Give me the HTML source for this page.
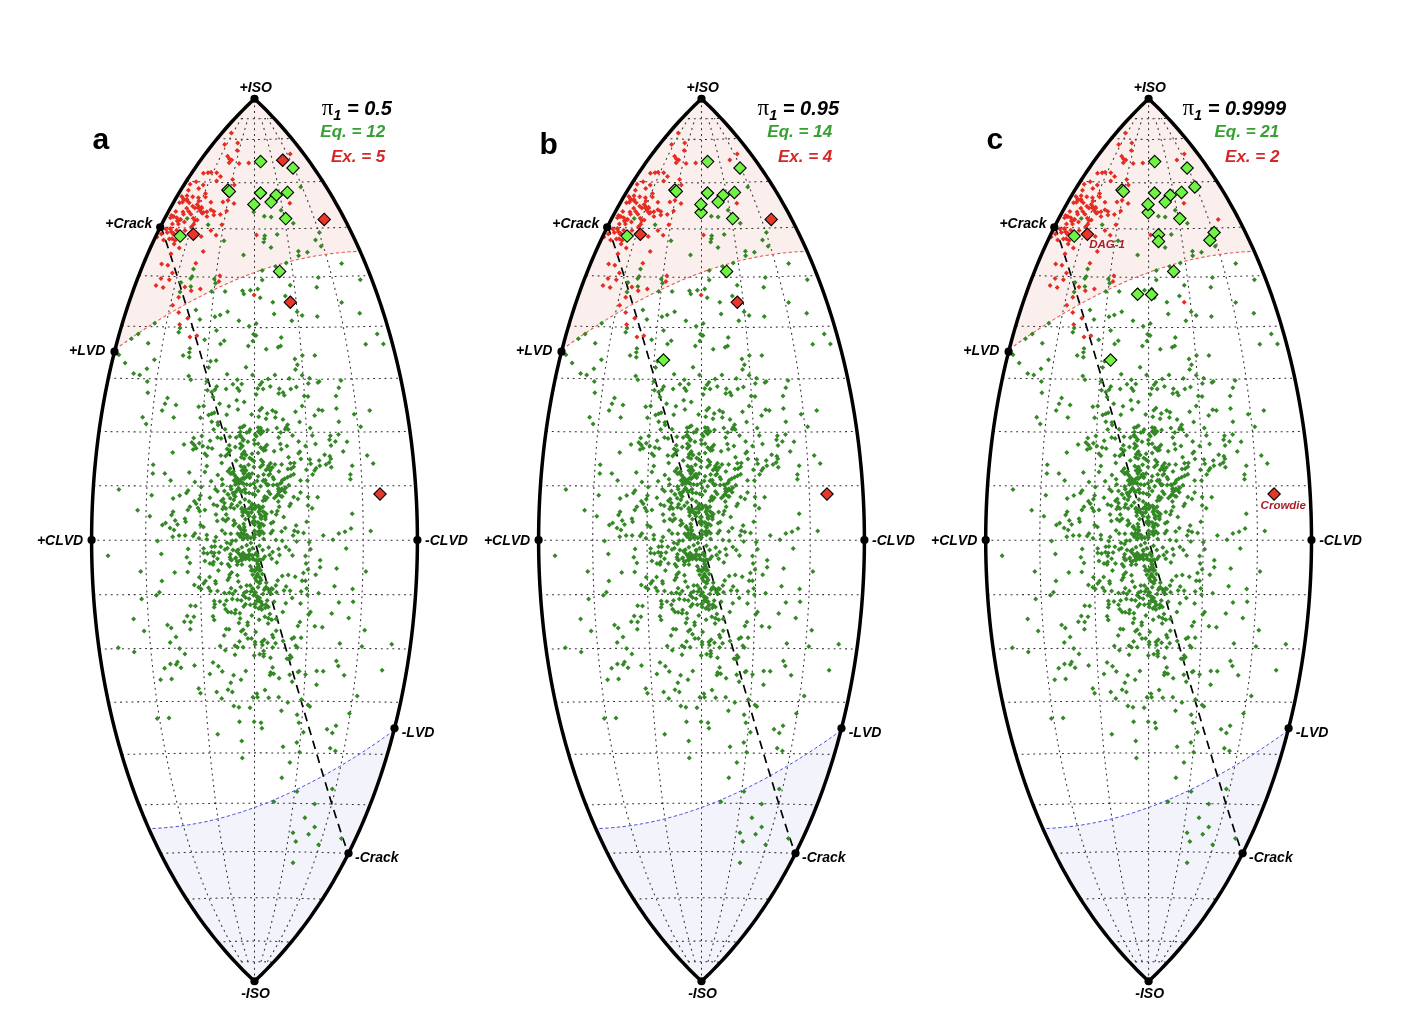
<!DOCTYPE html>
<html><head><meta charset="utf-8"><title>Lune plots</title>
<style>
html,body{margin:0;padding:0;background:#fff}
body{width:1412px;height:1034px;overflow:hidden}
svg{display:block}
text{font-family:"Liberation Sans",sans-serif;font-weight:bold;font-style:italic;fill:#000;font-kerning:none}
.lb{font-size:14px}
.pl{font-size:30px;font-style:normal}
.tt{font-size:20px}
.pi{font-family:"Liberation Serif","DejaVu Serif",serif;font-style:normal;font-weight:normal;font-size:23px}
.eq{font-size:17px;fill:#36a032}
.ex{font-size:17px;fill:#d62728}
.nm{font-size:11.5px;fill:#a52028}
</style></head><body>
<svg width="1412" height="1034" viewBox="0 0 1412 1034">
<rect width="1412" height="1034" fill="#fff"/>
<defs>
<g id="base">
<path d="M-0.00 441.23 L-3.95 437.50 L-7.84 433.72 L-11.66 429.90 L-15.42 426.04 L-19.12 422.15 L-22.75 418.21 L-26.33 414.24 L-29.84 410.24 L-33.30 406.19 L-36.70 402.11 L-40.05 398.00 L-43.33 393.85 L-46.57 389.67 L-49.75 385.45 L-52.87 381.20 L-55.95 376.92 L-58.97 372.61 L-61.94 368.26 L-64.86 363.88 L-67.73 359.48 L-70.55 355.04 L-73.32 350.57 L-76.04 346.07 L-78.71 341.54 L-81.34 336.98 L-83.92 332.40 L-86.45 327.79 L-88.94 323.15 L-91.38 318.48 L-93.78 313.79 L-96.13 309.07 L-98.43 304.32 L-100.70 299.55 L-102.91 294.76 L-105.09 289.94 L-107.22 285.09 L-109.31 280.23 L-111.35 275.34 L-113.36 270.42 L-115.32 265.49 L-117.23 260.53 L-119.11 255.56 L-120.94 250.56 L-122.74 245.54 L-124.49 240.50 L-126.20 235.44 L-127.87 230.36 L-129.50 225.26 L-131.09 220.15 L-132.64 215.02 L-134.15 209.86 L-135.62 204.70 L-137.05 199.51 L-138.44 194.31 L-139.79 189.10 L-141.10 183.87 L-142.38 178.62 L-143.61 173.36 L-144.80 168.08 L-145.96 162.80 L-147.07 157.49 L-148.15 152.18 L-149.19 146.85 L-150.19 141.52 L-151.15 136.17 L-152.08 130.81 L-152.96 125.43 L-153.81 120.05 L-154.62 114.66 L-155.39 109.26 L-156.13 103.85 L-156.82 98.44 L-157.48 93.01 L-158.10 87.58 L-158.68 82.14 L-159.22 76.69 L-159.73 71.24 L-160.20 65.78 L-160.63 60.32 L-161.02 54.85 L-161.38 49.38 L-161.70 43.90 L-161.98 38.42 L-162.22 32.94 L-162.43 27.45 L-162.60 21.96 L-162.73 16.48 L-162.82 10.98 L-162.88 5.49 L-162.90 -0.00 L-162.88 -5.49 L-162.82 -10.98 L-162.73 -16.48 L-162.60 -21.96 L-162.43 -27.45 L-162.22 -32.94 L-161.98 -38.42 L-161.70 -43.90 L-161.38 -49.38 L-161.02 -54.85 L-160.63 -60.32 L-160.20 -65.78 L-159.73 -71.24 L-159.22 -76.69 L-158.68 -82.14 L-158.10 -87.58 L-157.48 -93.01 L-156.82 -98.44 L-156.13 -103.85 L-155.39 -109.26 L-154.62 -114.66 L-153.81 -120.05 L-152.96 -125.43 L-152.08 -130.81 L-151.15 -136.17 L-150.19 -141.52 L-149.19 -146.85 L-148.15 -152.18 L-147.07 -157.49 L-145.96 -162.80 L-144.80 -168.08 L-143.61 -173.36 L-142.38 -178.62 L-141.10 -183.87 L-139.79 -189.10 L-138.44 -194.31 L-137.05 -199.51 L-135.62 -204.70 L-134.15 -209.86 L-132.64 -215.02 L-131.09 -220.15 L-129.50 -225.26 L-127.87 -230.36 L-126.20 -235.44 L-124.49 -240.50 L-122.74 -245.54 L-120.94 -250.56 L-119.11 -255.56 L-117.23 -260.53 L-115.32 -265.49 L-113.36 -270.42 L-111.35 -275.34 L-109.31 -280.23 L-107.22 -285.09 L-105.09 -289.94 L-102.91 -294.76 L-100.70 -299.55 L-98.43 -304.32 L-96.13 -309.07 L-93.78 -313.79 L-91.38 -318.48 L-88.94 -323.15 L-86.45 -327.79 L-83.92 -332.40 L-81.34 -336.98 L-78.71 -341.54 L-76.04 -346.07 L-73.32 -350.57 L-70.55 -355.04 L-67.73 -359.48 L-64.86 -363.88 L-61.94 -368.26 L-58.97 -372.61 L-55.95 -376.92 L-52.87 -381.20 L-49.75 -385.45 L-46.57 -389.67 L-43.33 -393.85 L-40.05 -398.00 L-36.70 -402.11 L-33.30 -406.19 L-29.84 -410.24 L-26.33 -414.24 L-22.75 -418.21 L-19.12 -422.15 L-15.42 -426.04 L-11.66 -429.90 L-7.84 -433.72 L-3.95 -437.50 L-0.00 -441.23 L0.00 -441.23 L3.95 -437.50 L7.84 -433.72 L11.66 -429.90 L15.42 -426.04 L19.12 -422.15 L22.75 -418.21 L26.33 -414.24 L29.84 -410.24 L33.30 -406.19 L36.70 -402.11 L40.05 -398.00 L43.33 -393.85 L46.57 -389.67 L49.75 -385.45 L52.87 -381.20 L55.95 -376.92 L58.97 -372.61 L61.94 -368.26 L64.86 -363.88 L67.73 -359.48 L70.55 -355.04 L73.32 -350.57 L76.04 -346.07 L78.71 -341.54 L81.34 -336.98 L83.92 -332.40 L86.45 -327.79 L88.94 -323.15 L91.38 -318.48 L93.78 -313.79 L96.13 -309.07 L98.43 -304.32 L100.70 -299.55 L102.91 -294.76 L105.09 -289.94 L107.22 -285.09 L109.31 -280.23 L111.35 -275.34 L113.36 -270.42 L115.32 -265.49 L117.23 -260.53 L119.11 -255.56 L120.94 -250.56 L122.74 -245.54 L124.49 -240.50 L126.20 -235.44 L127.87 -230.36 L129.50 -225.26 L131.09 -220.15 L132.64 -215.02 L134.15 -209.86 L135.62 -204.70 L137.05 -199.51 L138.44 -194.31 L139.79 -189.10 L141.10 -183.87 L142.38 -178.62 L143.61 -173.36 L144.80 -168.08 L145.96 -162.80 L147.07 -157.49 L148.15 -152.18 L149.19 -146.85 L150.19 -141.52 L151.15 -136.17 L152.08 -130.81 L152.96 -125.43 L153.81 -120.05 L154.62 -114.66 L155.39 -109.26 L156.13 -103.85 L156.82 -98.44 L157.48 -93.01 L158.10 -87.58 L158.68 -82.14 L159.22 -76.69 L159.73 -71.24 L160.20 -65.78 L160.63 -60.32 L161.02 -54.85 L161.38 -49.38 L161.70 -43.90 L161.98 -38.42 L162.22 -32.94 L162.43 -27.45 L162.60 -21.96 L162.73 -16.48 L162.82 -10.98 L162.88 -5.49 L162.90 -0.00 L162.88 5.49 L162.82 10.98 L162.73 16.48 L162.60 21.96 L162.43 27.45 L162.22 32.94 L161.98 38.42 L161.70 43.90 L161.38 49.38 L161.02 54.85 L160.63 60.32 L160.20 65.78 L159.73 71.24 L159.22 76.69 L158.68 82.14 L158.10 87.58 L157.48 93.01 L156.82 98.44 L156.13 103.85 L155.39 109.26 L154.62 114.66 L153.81 120.05 L152.96 125.43 L152.08 130.81 L151.15 136.17 L150.19 141.52 L149.19 146.85 L148.15 152.18 L147.07 157.49 L145.96 162.80 L144.80 168.08 L143.61 173.36 L142.38 178.62 L141.10 183.87 L139.79 189.10 L138.44 194.31 L137.05 199.51 L135.62 204.70 L134.15 209.86 L132.64 215.02 L131.09 220.15 L129.50 225.26 L127.87 230.36 L126.20 235.44 L124.49 240.50 L122.74 245.54 L120.94 250.56 L119.11 255.56 L117.23 260.53 L115.32 265.49 L113.36 270.42 L111.35 275.34 L109.31 280.23 L107.22 285.09 L105.09 289.94 L102.91 294.76 L100.70 299.55 L98.43 304.32 L96.13 309.07 L93.78 313.79 L91.38 318.48 L88.94 323.15 L86.45 327.79 L83.92 332.40 L81.34 336.98 L78.71 341.54 L76.04 346.07 L73.32 350.57 L70.55 355.04 L67.73 359.48 L64.86 363.88 L61.94 368.26 L58.97 372.61 L55.95 376.92 L52.87 381.20 L49.75 385.45 L46.57 389.67 L43.33 393.85 L40.05 398.00 L36.70 402.11 L33.30 406.19 L29.84 410.24 L26.33 414.24 L22.75 418.21 L19.12 422.15 L15.42 426.04 L11.66 429.90 L7.84 433.72 L3.95 437.50 L0.00 441.23 Z" fill="#fff"/>
<path d="M-139.44 -190.48 L-136.65 -192.50 L-133.86 -194.51 L-131.06 -196.50 L-128.24 -198.48 L-125.42 -200.45 L-122.59 -202.40 L-119.76 -204.34 L-116.91 -206.27 L-114.06 -208.18 L-111.20 -210.07 L-108.33 -211.95 L-105.45 -213.82 L-102.57 -215.66 L-99.67 -217.50 L-96.78 -219.31 L-93.87 -221.11 L-90.96 -222.89 L-88.03 -224.66 L-85.11 -226.41 L-82.17 -228.14 L-79.23 -229.85 L-76.29 -231.55 L-73.33 -233.23 L-70.37 -234.89 L-67.41 -236.53 L-64.43 -238.15 L-61.46 -239.75 L-58.47 -241.33 L-55.48 -242.89 L-52.48 -244.44 L-49.48 -245.96 L-46.48 -247.46 L-43.46 -248.94 L-40.44 -250.40 L-37.42 -251.83 L-34.39 -253.25 L-31.36 -254.64 L-28.32 -256.01 L-25.27 -257.35 L-22.22 -258.67 L-19.16 -259.97 L-16.10 -261.25 L-13.03 -262.50 L-9.96 -263.72 L-6.88 -264.92 L-3.79 -266.09 L-0.70 -267.24 L2.39 -268.37 L5.50 -269.46 L8.61 -270.53 L11.72 -271.57 L14.84 -272.59 L17.97 -273.58 L21.10 -274.53 L24.25 -275.46 L27.39 -276.37 L30.55 -277.24 L33.71 -278.08 L36.88 -278.89 L40.06 -279.68 L43.25 -280.43 L46.44 -281.15 L49.64 -281.85 L52.85 -282.51 L56.07 -283.13 L59.30 -283.73 L62.54 -284.30 L65.79 -284.83 L69.05 -285.33 L72.32 -285.80 L75.60 -286.24 L78.90 -286.64 L82.20 -287.01 L85.51 -287.34 L88.84 -287.65 L92.18 -287.92 L95.53 -288.15 L98.89 -288.36 L102.27 -288.52 L105.66 -288.66 L105.66 -288.66 L104.37 -291.55 L103.07 -294.43 L101.75 -297.30 L100.41 -300.16 L99.06 -303.01 L97.70 -305.85 L96.32 -308.69 L94.92 -311.51 L93.50 -314.33 L92.08 -317.13 L90.63 -319.93 L89.17 -322.72 L87.69 -325.50 L86.19 -328.27 L84.68 -331.02 L83.15 -333.77 L81.61 -336.51 L80.05 -339.24 L78.47 -341.96 L76.87 -344.67 L75.26 -347.36 L73.63 -350.05 L71.99 -352.73 L70.32 -355.40 L68.64 -358.05 L66.94 -360.70 L65.22 -363.33 L63.49 -365.95 L61.74 -368.56 L59.96 -371.16 L58.17 -373.75 L56.37 -376.33 L54.54 -378.90 L52.70 -381.45 L50.83 -383.99 L48.95 -386.52 L47.05 -389.04 L45.13 -391.55 L43.18 -394.04 L41.22 -396.53 L39.24 -399.00 L37.24 -401.45 L35.22 -403.90 L33.18 -406.33 L31.12 -408.75 L29.04 -411.16 L26.94 -413.55 L24.82 -415.94 L22.67 -418.30 L20.50 -420.66 L18.32 -423.00 L16.11 -425.33 L13.87 -427.64 L11.62 -429.94 L9.34 -432.23 L7.04 -434.50 L4.72 -436.76 L2.37 -439.00 L0.00 -441.23 L-0.00 -441.23 L-2.75 -438.65 L-5.46 -436.04 L-8.14 -433.42 L-10.79 -430.77 L-13.42 -428.11 L-16.01 -425.43 L-18.57 -422.73 L-21.10 -420.01 L-23.60 -417.28 L-26.07 -414.53 L-28.52 -411.76 L-30.94 -408.97 L-33.33 -406.16 L-35.69 -403.34 L-38.02 -400.50 L-40.33 -397.65 L-42.61 -394.77 L-44.87 -391.89 L-47.09 -388.98 L-49.30 -386.06 L-51.47 -383.12 L-53.62 -380.17 L-55.75 -377.20 L-57.85 -374.21 L-59.93 -371.21 L-61.98 -368.20 L-64.01 -365.17 L-66.01 -362.12 L-67.99 -359.07 L-69.95 -355.99 L-71.88 -352.90 L-73.79 -349.80 L-75.67 -346.68 L-77.54 -343.55 L-79.38 -340.41 L-81.19 -337.25 L-82.99 -334.07 L-84.76 -330.89 L-86.51 -327.69 L-88.23 -324.48 L-89.94 -321.25 L-91.62 -318.01 L-93.29 -314.76 L-94.93 -311.50 L-96.54 -308.22 L-98.14 -304.93 L-99.72 -301.63 L-101.27 -298.32 L-102.80 -295.00 L-104.32 -291.66 L-105.81 -288.31 L-107.28 -284.96 L-108.73 -281.59 L-110.16 -278.20 L-111.57 -274.81 L-112.96 -271.41 L-114.33 -268.00 L-115.67 -264.57 L-117.00 -261.14 L-118.31 -257.69 L-119.60 -254.24 L-120.87 -250.77 L-122.12 -247.30 L-123.34 -243.81 L-124.55 -240.32 L-125.74 -236.81 L-126.91 -233.30 L-128.06 -229.78 L-129.19 -226.25 L-130.30 -222.71 L-131.39 -219.16 L-132.47 -215.60 L-133.52 -212.04 L-134.55 -208.46 L-135.57 -204.88 L-136.57 -201.29 L-137.54 -197.70 L-138.50 -194.09 L-139.44 -190.48 Z" fill="#faefed"/>
<path d="M139.44 190.48 L136.65 192.50 L133.86 194.51 L131.06 196.50 L128.24 198.48 L125.42 200.45 L122.59 202.40 L119.76 204.34 L116.91 206.27 L114.06 208.18 L111.20 210.07 L108.33 211.95 L105.45 213.82 L102.57 215.66 L99.67 217.50 L96.78 219.31 L93.87 221.11 L90.96 222.89 L88.03 224.66 L85.11 226.41 L82.17 228.14 L79.23 229.85 L76.29 231.55 L73.33 233.23 L70.37 234.89 L67.41 236.53 L64.43 238.15 L61.46 239.75 L58.47 241.33 L55.48 242.89 L52.48 244.44 L49.48 245.96 L46.48 247.46 L43.46 248.94 L40.44 250.40 L37.42 251.83 L34.39 253.25 L31.36 254.64 L28.32 256.01 L25.27 257.35 L22.22 258.67 L19.16 259.97 L16.10 261.25 L13.03 262.50 L9.96 263.72 L6.88 264.92 L3.79 266.09 L0.70 267.24 L-2.39 268.37 L-5.50 269.46 L-8.61 270.53 L-11.72 271.57 L-14.84 272.59 L-17.97 273.58 L-21.10 274.53 L-24.25 275.46 L-27.39 276.37 L-30.55 277.24 L-33.71 278.08 L-36.88 278.89 L-40.06 279.68 L-43.25 280.43 L-46.44 281.15 L-49.64 281.85 L-52.85 282.51 L-56.07 283.13 L-59.30 283.73 L-62.54 284.30 L-65.79 284.83 L-69.05 285.33 L-72.32 285.80 L-75.60 286.24 L-78.90 286.64 L-82.20 287.01 L-85.51 287.34 L-88.84 287.65 L-92.18 287.92 L-95.53 288.15 L-98.89 288.36 L-102.27 288.52 L-105.66 288.66 L-105.66 288.66 L-104.37 291.55 L-103.07 294.43 L-101.75 297.30 L-100.41 300.16 L-99.06 303.01 L-97.70 305.85 L-96.32 308.69 L-94.92 311.51 L-93.50 314.33 L-92.08 317.13 L-90.63 319.93 L-89.17 322.72 L-87.69 325.50 L-86.19 328.27 L-84.68 331.02 L-83.15 333.77 L-81.61 336.51 L-80.05 339.24 L-78.47 341.96 L-76.87 344.67 L-75.26 347.36 L-73.63 350.05 L-71.99 352.73 L-70.32 355.40 L-68.64 358.05 L-66.94 360.70 L-65.22 363.33 L-63.49 365.95 L-61.74 368.56 L-59.96 371.16 L-58.17 373.75 L-56.37 376.33 L-54.54 378.90 L-52.70 381.45 L-50.83 383.99 L-48.95 386.52 L-47.05 389.04 L-45.13 391.55 L-43.18 394.04 L-41.22 396.53 L-39.24 399.00 L-37.24 401.45 L-35.22 403.90 L-33.18 406.33 L-31.12 408.75 L-29.04 411.16 L-26.94 413.55 L-24.82 415.94 L-22.67 418.30 L-20.50 420.66 L-18.32 423.00 L-16.11 425.33 L-13.87 427.64 L-11.62 429.94 L-9.34 432.23 L-7.04 434.50 L-4.72 436.76 L-2.37 439.00 L-0.00 441.23 L0.00 441.23 L2.75 438.65 L5.46 436.04 L8.14 433.42 L10.79 430.77 L13.42 428.11 L16.01 425.43 L18.57 422.73 L21.10 420.01 L23.60 417.28 L26.07 414.53 L28.52 411.76 L30.94 408.97 L33.33 406.16 L35.69 403.34 L38.02 400.50 L40.33 397.65 L42.61 394.77 L44.87 391.89 L47.09 388.98 L49.30 386.06 L51.47 383.12 L53.62 380.17 L55.75 377.20 L57.85 374.21 L59.93 371.21 L61.98 368.20 L64.01 365.17 L66.01 362.12 L67.99 359.07 L69.95 355.99 L71.88 352.90 L73.79 349.80 L75.67 346.68 L77.54 343.55 L79.38 340.41 L81.19 337.25 L82.99 334.07 L84.76 330.89 L86.51 327.69 L88.23 324.48 L89.94 321.25 L91.62 318.01 L93.29 314.76 L94.93 311.50 L96.54 308.22 L98.14 304.93 L99.72 301.63 L101.27 298.32 L102.80 295.00 L104.32 291.66 L105.81 288.31 L107.28 284.96 L108.73 281.59 L110.16 278.20 L111.57 274.81 L112.96 271.41 L114.33 268.00 L115.67 264.57 L117.00 261.14 L118.31 257.69 L119.60 254.24 L120.87 250.77 L122.12 247.30 L123.34 243.81 L124.55 240.32 L125.74 236.81 L126.91 233.30 L128.06 229.78 L129.19 226.25 L130.30 222.71 L131.39 219.16 L132.47 215.60 L133.52 212.04 L134.55 208.46 L135.57 204.88 L136.57 201.29 L137.54 197.70 L138.50 194.09 L139.44 190.48 Z" fill="#f3f3fc"/>
<path d="M-36.70 402.09 L-34.30 401.96 L-31.88 401.84 L-29.46 401.73 L-27.03 401.62 L-24.59 401.53 L-22.15 401.44 L-19.70 401.36 L-17.25 401.30 L-14.79 401.24 L-12.33 401.19 L-9.87 401.15 L-7.40 401.12 L-4.94 401.09 L-2.47 401.08 L0.00 401.08 L2.47 401.08 L4.94 401.09 L7.40 401.12 L9.87 401.15 L12.33 401.19 L14.79 401.24 L17.25 401.30 L19.70 401.36 L22.15 401.44 L24.59 401.53 L27.03 401.62 L29.46 401.73 L31.88 401.84 L34.30 401.96 L36.70 402.09 M-67.73 359.21 L-63.27 359.01 L-58.80 358.82 L-54.32 358.65 L-49.83 358.49 L-45.33 358.34 L-40.82 358.21 L-36.30 358.09 L-31.78 357.99 L-27.25 357.90 L-22.72 357.82 L-18.18 357.76 L-13.64 357.71 L-9.09 357.68 L-4.55 357.65 L0.00 357.65 L4.55 357.65 L9.09 357.68 L13.64 357.71 L18.18 357.76 L22.72 357.82 L27.25 357.90 L31.78 357.99 L36.30 358.09 L40.82 358.21 L45.33 358.34 L49.83 358.49 L54.32 358.65 L58.80 358.82 L63.27 359.01 L67.73 359.21 M-93.78 313.34 L-87.59 313.11 L-81.39 312.90 L-75.18 312.70 L-68.95 312.52 L-62.72 312.35 L-56.47 312.20 L-50.22 312.06 L-43.96 311.95 L-37.69 311.84 L-31.42 311.76 L-25.14 311.68 L-18.86 311.63 L-12.57 311.59 L-6.29 311.57 L0.00 311.56 L6.29 311.57 L12.57 311.59 L18.86 311.63 L25.14 311.68 L31.42 311.76 L37.69 311.84 L43.96 311.95 L50.22 312.06 L56.47 312.20 L62.72 312.35 L68.95 312.52 L75.18 312.70 L81.39 312.90 L87.59 313.11 L93.78 313.34 M-115.32 264.95 L-107.69 264.72 L-100.06 264.51 L-92.41 264.31 L-84.75 264.13 L-77.08 263.96 L-69.40 263.81 L-61.71 263.68 L-54.01 263.56 L-46.31 263.46 L-38.60 263.37 L-30.89 263.30 L-23.17 263.25 L-15.45 263.21 L-7.72 263.18 L0.00 263.18 L7.72 263.18 L15.45 263.21 L23.17 263.25 L30.89 263.30 L38.60 263.37 L46.31 263.46 L54.01 263.56 L61.71 263.68 L69.40 263.81 L77.08 263.96 L84.75 264.13 L92.41 264.31 L100.06 264.51 L107.69 264.72 L115.32 264.95 M-132.64 214.48 L-123.86 214.27 L-115.07 214.08 L-106.27 213.90 L-97.45 213.74 L-88.63 213.59 L-79.79 213.45 L-70.95 213.33 L-62.09 213.23 L-53.24 213.14 L-44.37 213.06 L-35.50 213.00 L-26.63 212.95 L-17.76 212.91 L-8.88 212.89 L0.00 212.88 L8.88 212.89 L17.76 212.91 L26.63 212.95 L35.50 213.00 L44.37 213.06 L53.24 213.14 L62.09 213.23 L70.95 213.33 L79.79 213.45 L88.63 213.59 L97.45 213.74 L106.27 213.90 L115.07 214.08 L123.86 214.27 L132.64 214.48 M-145.96 162.35 L-136.29 162.19 L-126.61 162.03 L-116.91 161.89 L-107.21 161.75 L-97.49 161.63 L-87.77 161.52 L-78.04 161.43 L-68.30 161.34 L-58.55 161.27 L-48.80 161.20 L-39.05 161.15 L-29.29 161.11 L-19.53 161.08 L-9.76 161.07 L0.00 161.06 L9.76 161.07 L19.53 161.08 L29.29 161.11 L39.05 161.15 L48.80 161.20 L58.55 161.27 L68.30 161.34 L78.04 161.43 L87.77 161.52 L97.49 161.63 L107.21 161.75 L116.91 161.89 L126.61 162.03 L136.29 162.19 L145.96 162.35 M-155.39 109.00 L-145.09 108.88 L-134.78 108.77 L-124.45 108.67 L-114.12 108.58 L-103.78 108.49 L-93.42 108.42 L-83.06 108.35 L-72.69 108.29 L-62.32 108.24 L-51.94 108.19 L-41.56 108.16 L-31.17 108.13 L-20.78 108.11 L-10.39 108.10 L0.00 108.09 L10.39 108.10 L20.78 108.11 L31.17 108.13 L41.56 108.16 L51.94 108.19 L62.32 108.24 L72.69 108.29 L83.06 108.35 L93.42 108.42 L103.78 108.49 L114.12 108.58 L124.45 108.67 L134.78 108.77 L145.09 108.88 L155.39 109.00 M-161.02 54.83 L-150.35 54.77 L-139.66 54.71 L-128.95 54.66 L-118.24 54.61 L-107.52 54.57 L-96.80 54.53 L-86.06 54.49 L-75.32 54.46 L-64.57 54.44 L-53.81 54.41 L-43.06 54.39 L-32.30 54.38 L-21.53 54.37 L-10.77 54.36 L0.00 54.36 L10.77 54.36 L21.53 54.37 L32.30 54.38 L43.06 54.39 L53.81 54.41 L64.57 54.44 L75.32 54.46 L86.06 54.49 L96.80 54.53 L107.52 54.57 L118.24 54.61 L128.95 54.66 L139.66 54.71 L150.35 54.77 L161.02 54.83 M-162.90 0.25 L-152.09 0.25 L-141.28 0.25 L-130.45 0.25 L-119.62 0.25 L-108.77 0.25 L-97.92 0.25 L-87.06 0.25 L-76.19 0.25 L-65.32 0.25 L-54.44 0.25 L-43.55 0.25 L-32.67 0.25 L-21.78 0.25 L-10.89 0.25 L0.00 0.25 L10.89 0.25 L21.78 0.25 L32.67 0.25 L43.55 0.25 L54.44 0.25 L65.32 0.25 L76.19 0.25 L87.06 0.25 L97.92 0.25 L108.77 0.25 L119.62 0.25 L130.45 0.25 L141.28 0.25 L152.09 0.25 L162.90 0.25 M-161.02 -54.33 L-150.35 -54.27 L-139.66 -54.21 L-128.95 -54.16 L-118.24 -54.11 L-107.52 -54.07 L-96.80 -54.03 L-86.06 -53.99 L-75.32 -53.96 L-64.57 -53.94 L-53.81 -53.91 L-43.06 -53.89 L-32.30 -53.88 L-21.53 -53.87 L-10.77 -53.86 L0.00 -53.86 L10.77 -53.86 L21.53 -53.87 L32.30 -53.88 L43.06 -53.89 L53.81 -53.91 L64.57 -53.94 L75.32 -53.96 L86.06 -53.99 L96.80 -54.03 L107.52 -54.07 L118.24 -54.11 L128.95 -54.16 L139.66 -54.21 L150.35 -54.27 L161.02 -54.33 M-155.39 -108.50 L-145.09 -108.38 L-134.78 -108.27 L-124.45 -108.17 L-114.12 -108.08 L-103.78 -107.99 L-93.42 -107.92 L-83.06 -107.85 L-72.69 -107.79 L-62.32 -107.74 L-51.94 -107.69 L-41.56 -107.66 L-31.17 -107.63 L-20.78 -107.61 L-10.39 -107.60 L0.00 -107.59 L10.39 -107.60 L20.78 -107.61 L31.17 -107.63 L41.56 -107.66 L51.94 -107.69 L62.32 -107.74 L72.69 -107.79 L83.06 -107.85 L93.42 -107.92 L103.78 -107.99 L114.12 -108.08 L124.45 -108.17 L134.78 -108.27 L145.09 -108.38 L155.39 -108.50 M-145.96 -161.85 L-136.29 -161.69 L-126.61 -161.53 L-116.91 -161.39 L-107.21 -161.25 L-97.49 -161.13 L-87.77 -161.02 L-78.04 -160.93 L-68.30 -160.84 L-58.55 -160.77 L-48.80 -160.70 L-39.05 -160.65 L-29.29 -160.61 L-19.53 -160.58 L-9.76 -160.57 L0.00 -160.56 L9.76 -160.57 L19.53 -160.58 L29.29 -160.61 L39.05 -160.65 L48.80 -160.70 L58.55 -160.77 L68.30 -160.84 L78.04 -160.93 L87.77 -161.02 L97.49 -161.13 L107.21 -161.25 L116.91 -161.39 L126.61 -161.53 L136.29 -161.69 L145.96 -161.85 M-132.64 -213.98 L-123.86 -213.77 L-115.07 -213.58 L-106.27 -213.40 L-97.45 -213.24 L-88.63 -213.09 L-79.79 -212.95 L-70.95 -212.83 L-62.09 -212.73 L-53.24 -212.64 L-44.37 -212.56 L-35.50 -212.50 L-26.63 -212.45 L-17.76 -212.41 L-8.88 -212.39 L0.00 -212.38 L8.88 -212.39 L17.76 -212.41 L26.63 -212.45 L35.50 -212.50 L44.37 -212.56 L53.24 -212.64 L62.09 -212.73 L70.95 -212.83 L79.79 -212.95 L88.63 -213.09 L97.45 -213.24 L106.27 -213.40 L115.07 -213.58 L123.86 -213.77 L132.64 -213.98 M-115.32 -264.45 L-107.69 -264.22 L-100.06 -264.01 L-92.41 -263.81 L-84.75 -263.63 L-77.08 -263.46 L-69.40 -263.31 L-61.71 -263.18 L-54.01 -263.06 L-46.31 -262.96 L-38.60 -262.87 L-30.89 -262.80 L-23.17 -262.75 L-15.45 -262.71 L-7.72 -262.68 L0.00 -262.68 L7.72 -262.68 L15.45 -262.71 L23.17 -262.75 L30.89 -262.80 L38.60 -262.87 L46.31 -262.96 L54.01 -263.06 L61.71 -263.18 L69.40 -263.31 L77.08 -263.46 L84.75 -263.63 L92.41 -263.81 L100.06 -264.01 L107.69 -264.22 L115.32 -264.45 M-93.78 -312.84 L-87.59 -312.61 L-81.39 -312.40 L-75.18 -312.20 L-68.95 -312.02 L-62.72 -311.85 L-56.47 -311.70 L-50.22 -311.56 L-43.96 -311.45 L-37.69 -311.34 L-31.42 -311.26 L-25.14 -311.18 L-18.86 -311.13 L-12.57 -311.09 L-6.29 -311.07 L0.00 -311.06 L6.29 -311.07 L12.57 -311.09 L18.86 -311.13 L25.14 -311.18 L31.42 -311.26 L37.69 -311.34 L43.96 -311.45 L50.22 -311.56 L56.47 -311.70 L62.72 -311.85 L68.95 -312.02 L75.18 -312.20 L81.39 -312.40 L87.59 -312.61 L93.78 -312.84 M-67.73 -358.71 L-63.27 -358.51 L-58.80 -358.32 L-54.32 -358.15 L-49.83 -357.99 L-45.33 -357.84 L-40.82 -357.71 L-36.30 -357.59 L-31.78 -357.49 L-27.25 -357.40 L-22.72 -357.32 L-18.18 -357.26 L-13.64 -357.21 L-9.09 -357.18 L-4.55 -357.15 L0.00 -357.15 L4.55 -357.15 L9.09 -357.18 L13.64 -357.21 L18.18 -357.26 L22.72 -357.32 L27.25 -357.40 L31.78 -357.49 L36.30 -357.59 L40.82 -357.71 L45.33 -357.84 L49.83 -357.99 L54.32 -358.15 L58.80 -358.32 L63.27 -358.51 L67.73 -358.71 M-36.70 -401.59 L-34.30 -401.46 L-31.88 -401.34 L-29.46 -401.23 L-27.03 -401.12 L-24.59 -401.03 L-22.15 -400.94 L-19.70 -400.86 L-17.25 -400.80 L-14.79 -400.74 L-12.33 -400.69 L-9.87 -400.65 L-7.40 -400.62 L-4.94 -400.59 L-2.47 -400.58 L0.00 -400.58 L2.47 -400.58 L4.94 -400.59 L7.40 -400.62 L9.87 -400.65 L12.33 -400.69 L14.79 -400.74 L17.25 -400.80 L19.70 -400.86 L22.15 -400.94 L24.59 -401.03 L27.03 -401.12 L29.46 -401.23 L31.88 -401.34 L34.30 -401.46 L36.70 -401.59 M-19.12 -421.76 L-17.87 -421.68 L-16.61 -421.61 L-15.35 -421.55 L-14.09 -421.49 L-12.82 -421.44 L-11.55 -421.39 L-10.27 -421.34 L-8.99 -421.31 L-7.71 -421.27 L-6.43 -421.24 L-5.15 -421.22 L-3.86 -421.20 L-2.57 -421.19 L-1.29 -421.18 L0.00 -421.18 L1.29 -421.18 L2.57 -421.19 L3.86 -421.20 L5.15 -421.22 L6.43 -421.24 L7.71 -421.27 L8.99 -421.31 L10.27 -421.34 L11.55 -421.39 L12.82 -421.44 L14.09 -421.49 L15.35 -421.55 L16.61 -421.61 L17.87 -421.68 L19.12 -421.76 M-19.12 422.26 L-17.87 422.18 L-16.61 422.11 L-15.35 422.05 L-14.09 421.99 L-12.82 421.94 L-11.55 421.89 L-10.27 421.84 L-8.99 421.81 L-7.71 421.77 L-6.43 421.74 L-5.15 421.72 L-3.86 421.70 L-2.57 421.69 L-1.29 421.68 L0.00 421.68 L1.29 421.68 L2.57 421.69 L3.86 421.70 L5.15 421.72 L6.43 421.74 L7.71 421.77 L8.99 421.81 L10.27 421.84 L11.55 421.89 L12.82 421.94 L14.09 421.99 L15.35 422.05 L16.61 422.11 L17.87 422.18 L19.12 422.26 M-12.82 421.83 L-15.25 417.84 L-17.65 413.82 L-20.00 409.76 L-22.31 405.67 L-24.59 401.55 L-26.83 397.40 L-29.03 393.21 L-31.19 388.99 L-33.32 384.74 L-35.40 380.46 L-37.46 376.15 L-39.48 371.81 L-41.46 367.44 L-43.41 363.04 L-45.33 358.61 L-47.21 354.15 L-49.06 349.66 L-50.88 345.15 L-52.67 340.60 L-54.42 336.03 L-56.14 331.44 L-57.83 326.82 L-59.49 322.17 L-61.12 317.49 L-62.72 312.79 L-64.29 308.07 L-65.83 303.32 L-67.33 298.55 L-68.81 293.75 L-70.26 288.93 L-71.68 284.09 L-73.08 279.23 L-74.44 274.34 L-75.77 269.43 L-77.08 264.50 L-78.36 259.55 L-79.61 254.58 L-80.83 249.59 L-82.03 244.58 L-83.19 239.55 L-84.33 234.50 L-85.45 229.43 L-86.53 224.35 L-87.59 219.25 L-88.63 214.13 L-89.63 208.99 L-90.61 203.84 L-91.56 198.67 L-92.49 193.49 L-93.39 188.29 L-94.26 183.07 L-95.11 177.84 L-95.93 172.60 L-96.72 167.34 L-97.49 162.08 L-98.24 156.79 L-98.96 151.50 L-99.65 146.19 L-100.31 140.88 L-100.95 135.55 L-101.57 130.21 L-102.16 124.86 L-102.72 119.50 L-103.26 114.13 L-103.78 108.76 L-104.26 103.37 L-104.73 97.98 L-105.16 92.58 L-105.58 87.17 L-105.96 81.75 L-106.33 76.33 L-106.66 70.91 L-106.97 65.47 L-107.26 60.03 L-107.52 54.59 L-107.76 49.14 L-107.97 43.69 L-108.16 38.24 L-108.32 32.78 L-108.46 27.32 L-108.57 21.86 L-108.66 16.40 L-108.72 10.93 L-108.76 5.47 L-108.77 -0.00 L-108.76 -5.47 L-108.72 -10.93 L-108.66 -16.40 L-108.57 -21.86 L-108.46 -27.32 L-108.32 -32.78 L-108.16 -38.24 L-107.97 -43.69 L-107.76 -49.14 L-107.52 -54.59 L-107.26 -60.03 L-106.97 -65.47 L-106.66 -70.91 L-106.33 -76.33 L-105.96 -81.75 L-105.58 -87.17 L-105.16 -92.58 L-104.73 -97.98 L-104.26 -103.37 L-103.78 -108.76 L-103.26 -114.13 L-102.72 -119.50 L-102.16 -124.86 L-101.57 -130.21 L-100.95 -135.55 L-100.31 -140.88 L-99.65 -146.19 L-98.96 -151.50 L-98.24 -156.79 L-97.49 -162.08 L-96.72 -167.34 L-95.93 -172.60 L-95.11 -177.84 L-94.26 -183.07 L-93.39 -188.29 L-92.49 -193.49 L-91.56 -198.67 L-90.61 -203.84 L-89.63 -208.99 L-88.63 -214.13 L-87.59 -219.25 L-86.53 -224.35 L-85.45 -229.43 L-84.33 -234.50 L-83.19 -239.55 L-82.03 -244.58 L-80.83 -249.59 L-79.61 -254.58 L-78.36 -259.55 L-77.08 -264.50 L-75.77 -269.43 L-74.44 -274.34 L-73.08 -279.23 L-71.68 -284.09 L-70.26 -288.93 L-68.81 -293.75 L-67.33 -298.55 L-65.83 -303.32 L-64.29 -308.07 L-62.72 -312.79 L-61.12 -317.49 L-59.49 -322.17 L-57.83 -326.82 L-56.14 -331.44 L-54.42 -336.03 L-52.67 -340.60 L-50.88 -345.15 L-49.06 -349.66 L-47.21 -354.15 L-45.33 -358.61 L-43.41 -363.04 L-41.46 -367.44 L-39.48 -371.81 L-37.46 -376.15 L-35.40 -380.46 L-33.32 -384.74 L-31.19 -388.99 L-29.03 -393.21 L-26.83 -397.40 L-24.59 -401.55 L-22.31 -405.67 L-20.00 -409.76 L-17.65 -413.82 L-15.25 -417.84 L-12.82 -421.83 M-6.43 421.63 L-7.65 417.61 L-8.85 413.56 L-10.03 409.48 L-11.19 405.36 L-12.33 401.21 L-13.45 397.03 L-14.55 392.82 L-15.64 388.58 L-16.70 384.32 L-17.75 380.02 L-18.78 375.69 L-19.79 371.33 L-20.78 366.94 L-21.76 362.53 L-22.72 358.09 L-23.66 353.62 L-24.59 349.12 L-25.50 344.59 L-26.39 340.04 L-27.27 335.46 L-28.13 330.86 L-28.97 326.23 L-29.80 321.58 L-30.62 316.90 L-31.42 312.20 L-32.20 307.47 L-32.97 302.72 L-33.73 297.95 L-34.47 293.15 L-35.19 288.33 L-35.90 283.49 L-36.60 278.63 L-37.28 273.74 L-37.95 268.84 L-38.60 263.91 L-39.24 258.96 L-39.87 254.00 L-40.48 249.01 L-41.07 244.01 L-41.66 238.98 L-42.23 233.94 L-42.78 228.88 L-43.33 223.80 L-43.86 218.71 L-44.37 213.60 L-44.87 208.47 L-45.36 203.33 L-45.84 198.17 L-46.30 192.99 L-46.75 187.80 L-47.19 182.60 L-47.61 177.38 L-48.02 172.15 L-48.42 166.90 L-48.80 161.65 L-49.17 156.38 L-49.53 151.09 L-49.88 145.80 L-50.21 140.50 L-50.53 135.18 L-50.84 129.85 L-51.13 124.52 L-51.42 119.17 L-51.69 113.82 L-51.94 108.46 L-52.19 103.09 L-52.42 97.71 L-52.64 92.32 L-52.84 86.93 L-53.03 81.52 L-53.22 76.12 L-53.38 70.71 L-53.54 65.29 L-53.68 59.86 L-53.81 54.44 L-53.93 49.00 L-54.04 43.57 L-54.13 38.13 L-54.21 32.69 L-54.28 27.24 L-54.34 21.80 L-54.38 16.35 L-54.41 10.90 L-54.43 5.45 L-54.44 -0.00 L-54.43 -5.45 L-54.41 -10.90 L-54.38 -16.35 L-54.34 -21.80 L-54.28 -27.24 L-54.21 -32.69 L-54.13 -38.13 L-54.04 -43.57 L-53.93 -49.00 L-53.81 -54.44 L-53.68 -59.86 L-53.54 -65.29 L-53.38 -70.71 L-53.22 -76.12 L-53.03 -81.52 L-52.84 -86.93 L-52.64 -92.32 L-52.42 -97.71 L-52.19 -103.09 L-51.94 -108.46 L-51.69 -113.82 L-51.42 -119.17 L-51.13 -124.52 L-50.84 -129.85 L-50.53 -135.18 L-50.21 -140.50 L-49.88 -145.80 L-49.53 -151.09 L-49.17 -156.38 L-48.80 -161.65 L-48.42 -166.90 L-48.02 -172.15 L-47.61 -177.38 L-47.19 -182.60 L-46.75 -187.80 L-46.30 -192.99 L-45.84 -198.17 L-45.36 -203.33 L-44.87 -208.47 L-44.37 -213.60 L-43.86 -218.71 L-43.33 -223.80 L-42.78 -228.88 L-42.23 -233.94 L-41.66 -238.98 L-41.07 -244.01 L-40.48 -249.01 L-39.87 -254.00 L-39.24 -258.96 L-38.60 -263.91 L-37.95 -268.84 L-37.28 -273.74 L-36.60 -278.63 L-35.90 -283.49 L-35.19 -288.33 L-34.47 -293.15 L-33.73 -297.95 L-32.97 -302.72 L-32.20 -307.47 L-31.42 -312.20 L-30.62 -316.90 L-29.80 -321.58 L-28.97 -326.23 L-28.13 -330.86 L-27.27 -335.46 L-26.39 -340.04 L-25.50 -344.59 L-24.59 -349.12 L-23.66 -353.62 L-22.72 -358.09 L-21.76 -362.53 L-20.78 -366.94 L-19.79 -371.33 L-18.78 -375.69 L-17.75 -380.02 L-16.70 -384.32 L-15.64 -388.58 L-14.55 -392.82 L-13.45 -397.03 L-12.33 -401.21 L-11.19 -405.36 L-10.03 -409.48 L-8.85 -413.56 L-7.65 -417.61 L-6.43 -421.63 M6.43 421.63 L7.65 417.61 L8.85 413.56 L10.03 409.48 L11.19 405.36 L12.33 401.21 L13.45 397.03 L14.55 392.82 L15.64 388.58 L16.70 384.32 L17.75 380.02 L18.78 375.69 L19.79 371.33 L20.78 366.94 L21.76 362.53 L22.72 358.09 L23.66 353.62 L24.59 349.12 L25.50 344.59 L26.39 340.04 L27.27 335.46 L28.13 330.86 L28.97 326.23 L29.80 321.58 L30.62 316.90 L31.42 312.20 L32.20 307.47 L32.97 302.72 L33.73 297.95 L34.47 293.15 L35.19 288.33 L35.90 283.49 L36.60 278.63 L37.28 273.74 L37.95 268.84 L38.60 263.91 L39.24 258.96 L39.87 254.00 L40.48 249.01 L41.07 244.01 L41.66 238.98 L42.23 233.94 L42.78 228.88 L43.33 223.80 L43.86 218.71 L44.37 213.60 L44.87 208.47 L45.36 203.33 L45.84 198.17 L46.30 192.99 L46.75 187.80 L47.19 182.60 L47.61 177.38 L48.02 172.15 L48.42 166.90 L48.80 161.65 L49.17 156.38 L49.53 151.09 L49.88 145.80 L50.21 140.50 L50.53 135.18 L50.84 129.85 L51.13 124.52 L51.42 119.17 L51.69 113.82 L51.94 108.46 L52.19 103.09 L52.42 97.71 L52.64 92.32 L52.84 86.93 L53.03 81.52 L53.22 76.12 L53.38 70.71 L53.54 65.29 L53.68 59.86 L53.81 54.44 L53.93 49.00 L54.04 43.57 L54.13 38.13 L54.21 32.69 L54.28 27.24 L54.34 21.80 L54.38 16.35 L54.41 10.90 L54.43 5.45 L54.44 -0.00 L54.43 -5.45 L54.41 -10.90 L54.38 -16.35 L54.34 -21.80 L54.28 -27.24 L54.21 -32.69 L54.13 -38.13 L54.04 -43.57 L53.93 -49.00 L53.81 -54.44 L53.68 -59.86 L53.54 -65.29 L53.38 -70.71 L53.22 -76.12 L53.03 -81.52 L52.84 -86.93 L52.64 -92.32 L52.42 -97.71 L52.19 -103.09 L51.94 -108.46 L51.69 -113.82 L51.42 -119.17 L51.13 -124.52 L50.84 -129.85 L50.53 -135.18 L50.21 -140.50 L49.88 -145.80 L49.53 -151.09 L49.17 -156.38 L48.80 -161.65 L48.42 -166.90 L48.02 -172.15 L47.61 -177.38 L47.19 -182.60 L46.75 -187.80 L46.30 -192.99 L45.84 -198.17 L45.36 -203.33 L44.87 -208.47 L44.37 -213.60 L43.86 -218.71 L43.33 -223.80 L42.78 -228.88 L42.23 -233.94 L41.66 -238.98 L41.07 -244.01 L40.48 -249.01 L39.87 -254.00 L39.24 -258.96 L38.60 -263.91 L37.95 -268.84 L37.28 -273.74 L36.60 -278.63 L35.90 -283.49 L35.19 -288.33 L34.47 -293.15 L33.73 -297.95 L32.97 -302.72 L32.20 -307.47 L31.42 -312.20 L30.62 -316.90 L29.80 -321.58 L28.97 -326.23 L28.13 -330.86 L27.27 -335.46 L26.39 -340.04 L25.50 -344.59 L24.59 -349.12 L23.66 -353.62 L22.72 -358.09 L21.76 -362.53 L20.78 -366.94 L19.79 -371.33 L18.78 -375.69 L17.75 -380.02 L16.70 -384.32 L15.64 -388.58 L14.55 -392.82 L13.45 -397.03 L12.33 -401.21 L11.19 -405.36 L10.03 -409.48 L8.85 -413.56 L7.65 -417.61 L6.43 -421.63 M12.82 421.83 L15.25 417.84 L17.65 413.82 L20.00 409.76 L22.31 405.67 L24.59 401.55 L26.83 397.40 L29.03 393.21 L31.19 388.99 L33.32 384.74 L35.40 380.46 L37.46 376.15 L39.48 371.81 L41.46 367.44 L43.41 363.04 L45.33 358.61 L47.21 354.15 L49.06 349.66 L50.88 345.15 L52.67 340.60 L54.42 336.03 L56.14 331.44 L57.83 326.82 L59.49 322.17 L61.12 317.49 L62.72 312.79 L64.29 308.07 L65.83 303.32 L67.33 298.55 L68.81 293.75 L70.26 288.93 L71.68 284.09 L73.08 279.23 L74.44 274.34 L75.77 269.43 L77.08 264.50 L78.36 259.55 L79.61 254.58 L80.83 249.59 L82.03 244.58 L83.19 239.55 L84.33 234.50 L85.45 229.43 L86.53 224.35 L87.59 219.25 L88.63 214.13 L89.63 208.99 L90.61 203.84 L91.56 198.67 L92.49 193.49 L93.39 188.29 L94.26 183.07 L95.11 177.84 L95.93 172.60 L96.72 167.34 L97.49 162.08 L98.24 156.79 L98.96 151.50 L99.65 146.19 L100.31 140.88 L100.95 135.55 L101.57 130.21 L102.16 124.86 L102.72 119.50 L103.26 114.13 L103.78 108.76 L104.26 103.37 L104.73 97.98 L105.16 92.58 L105.58 87.17 L105.96 81.75 L106.33 76.33 L106.66 70.91 L106.97 65.47 L107.26 60.03 L107.52 54.59 L107.76 49.14 L107.97 43.69 L108.16 38.24 L108.32 32.78 L108.46 27.32 L108.57 21.86 L108.66 16.40 L108.72 10.93 L108.76 5.47 L108.77 -0.00 L108.76 -5.47 L108.72 -10.93 L108.66 -16.40 L108.57 -21.86 L108.46 -27.32 L108.32 -32.78 L108.16 -38.24 L107.97 -43.69 L107.76 -49.14 L107.52 -54.59 L107.26 -60.03 L106.97 -65.47 L106.66 -70.91 L106.33 -76.33 L105.96 -81.75 L105.58 -87.17 L105.16 -92.58 L104.73 -97.98 L104.26 -103.37 L103.78 -108.76 L103.26 -114.13 L102.72 -119.50 L102.16 -124.86 L101.57 -130.21 L100.95 -135.55 L100.31 -140.88 L99.65 -146.19 L98.96 -151.50 L98.24 -156.79 L97.49 -162.08 L96.72 -167.34 L95.93 -172.60 L95.11 -177.84 L94.26 -183.07 L93.39 -188.29 L92.49 -193.49 L91.56 -198.67 L90.61 -203.84 L89.63 -208.99 L88.63 -214.13 L87.59 -219.25 L86.53 -224.35 L85.45 -229.43 L84.33 -234.50 L83.19 -239.55 L82.03 -244.58 L80.83 -249.59 L79.61 -254.58 L78.36 -259.55 L77.08 -264.50 L75.77 -269.43 L74.44 -274.34 L73.08 -279.23 L71.68 -284.09 L70.26 -288.93 L68.81 -293.75 L67.33 -298.55 L65.83 -303.32 L64.29 -308.07 L62.72 -312.79 L61.12 -317.49 L59.49 -322.17 L57.83 -326.82 L56.14 -331.44 L54.42 -336.03 L52.67 -340.60 L50.88 -345.15 L49.06 -349.66 L47.21 -354.15 L45.33 -358.61 L43.41 -363.04 L41.46 -367.44 L39.48 -371.81 L37.46 -376.15 L35.40 -380.46 L33.32 -384.74 L31.19 -388.99 L29.03 -393.21 L26.83 -397.40 L24.59 -401.55 L22.31 -405.67 L20.00 -409.76 L17.65 -413.82 L15.25 -417.84 L12.82 -421.83 M0.00 441.23 L0.00 437.37 L0.00 433.47 L0.00 429.53 L0.00 425.57 L0.00 421.57 L0.00 417.54 L0.00 413.47 L0.00 409.38 L0.00 405.26 L0.00 401.10 L0.00 396.91 L0.00 392.70 L0.00 388.45 L0.00 384.17 L0.00 379.87 L0.00 375.53 L0.00 371.17 L0.00 366.78 L0.00 362.36 L0.00 357.91 L0.00 353.44 L0.00 348.94 L0.00 344.41 L0.00 339.85 L0.00 335.27 L0.00 330.67 L0.00 326.04 L0.00 321.38 L0.00 316.70 L0.00 312.00 L0.00 307.27 L0.00 302.52 L0.00 297.75 L0.00 292.95 L0.00 288.13 L0.00 283.29 L0.00 278.43 L0.00 273.54 L0.00 268.64 L0.00 263.71 L0.00 258.77 L0.00 253.80 L0.00 248.82 L0.00 243.82 L0.00 238.79 L0.00 233.75 L0.00 228.70 L0.00 223.62 L0.00 218.53 L0.00 213.42 L0.00 208.30 L0.00 203.15 L0.00 198.00 L0.00 192.83 L0.00 187.64 L0.00 182.44 L0.00 177.23 L0.00 172.00 L0.00 166.76 L0.00 161.50 L0.00 156.24 L0.00 150.96 L0.00 145.67 L0.00 140.37 L0.00 135.06 L0.00 129.74 L0.00 124.41 L0.00 119.06 L0.00 113.71 L0.00 108.36 L0.00 102.99 L0.00 97.62 L0.00 92.23 L0.00 86.84 L0.00 81.45 L0.00 76.05 L0.00 70.64 L0.00 65.23 L0.00 59.81 L0.00 54.39 L0.00 48.96 L0.00 43.53 L0.00 38.09 L0.00 32.66 L0.00 27.22 L0.00 21.78 L0.00 16.33 L0.00 10.89 L0.00 5.45 L0.00 -0.00 L0.00 -5.45 L0.00 -10.89 L0.00 -16.33 L0.00 -21.78 L0.00 -27.22 L0.00 -32.66 L0.00 -38.09 L0.00 -43.53 L0.00 -48.96 L0.00 -54.39 L0.00 -59.81 L0.00 -65.23 L0.00 -70.64 L0.00 -76.05 L0.00 -81.45 L0.00 -86.84 L0.00 -92.23 L0.00 -97.62 L0.00 -102.99 L0.00 -108.36 L0.00 -113.71 L0.00 -119.06 L0.00 -124.41 L0.00 -129.74 L0.00 -135.06 L0.00 -140.37 L0.00 -145.67 L0.00 -150.96 L0.00 -156.24 L0.00 -161.50 L0.00 -166.76 L0.00 -172.00 L0.00 -177.23 L0.00 -182.44 L0.00 -187.64 L0.00 -192.83 L0.00 -198.00 L0.00 -203.15 L0.00 -208.30 L0.00 -213.42 L0.00 -218.53 L0.00 -223.62 L0.00 -228.70 L0.00 -233.75 L0.00 -238.79 L0.00 -243.82 L0.00 -248.82 L0.00 -253.80 L0.00 -258.77 L0.00 -263.71 L0.00 -268.64 L0.00 -273.54 L0.00 -278.43 L0.00 -283.29 L0.00 -288.13 L0.00 -292.95 L0.00 -297.75 L0.00 -302.52 L0.00 -307.27 L0.00 -312.00 L0.00 -316.70 L0.00 -321.38 L0.00 -326.04 L0.00 -330.67 L0.00 -335.27 L0.00 -339.85 L0.00 -344.41 L0.00 -348.94 L0.00 -353.44 L0.00 -357.91 L0.00 -362.36 L0.00 -366.78 L0.00 -371.17 L0.00 -375.53 L0.00 -379.87 L0.00 -384.17 L0.00 -388.45 L0.00 -392.70 L0.00 -396.91 L0.00 -401.10 L0.00 -405.26 L0.00 -409.38 L0.00 -413.47 L0.00 -417.54 L0.00 -421.57 L0.00 -425.57 L0.00 -429.53 L0.00 -433.47 L0.00 -437.37 L0.00 -441.23" fill="none" stroke="#333" stroke-width="1.05" stroke-dasharray="1.9 3.85"/>
<path d="M-139.44 -190.48 L-136.65 -192.50 L-133.86 -194.51 L-131.06 -196.50 L-128.24 -198.48 L-125.42 -200.45 L-122.59 -202.40 L-119.76 -204.34 L-116.91 -206.27 L-114.06 -208.18 L-111.20 -210.07 L-108.33 -211.95 L-105.45 -213.82 L-102.57 -215.66 L-99.67 -217.50 L-96.78 -219.31 L-93.87 -221.11 L-90.96 -222.89 L-88.03 -224.66 L-85.11 -226.41 L-82.17 -228.14 L-79.23 -229.85 L-76.29 -231.55 L-73.33 -233.23 L-70.37 -234.89 L-67.41 -236.53 L-64.43 -238.15 L-61.46 -239.75 L-58.47 -241.33 L-55.48 -242.89 L-52.48 -244.44 L-49.48 -245.96 L-46.48 -247.46 L-43.46 -248.94 L-40.44 -250.40 L-37.42 -251.83 L-34.39 -253.25 L-31.36 -254.64 L-28.32 -256.01 L-25.27 -257.35 L-22.22 -258.67 L-19.16 -259.97 L-16.10 -261.25 L-13.03 -262.50 L-9.96 -263.72 L-6.88 -264.92 L-3.79 -266.09 L-0.70 -267.24 L2.39 -268.37 L5.50 -269.46 L8.61 -270.53 L11.72 -271.57 L14.84 -272.59 L17.97 -273.58 L21.10 -274.53 L24.25 -275.46 L27.39 -276.37 L30.55 -277.24 L33.71 -278.08 L36.88 -278.89 L40.06 -279.68 L43.25 -280.43 L46.44 -281.15 L49.64 -281.85 L52.85 -282.51 L56.07 -283.13 L59.30 -283.73 L62.54 -284.30 L65.79 -284.83 L69.05 -285.33 L72.32 -285.80 L75.60 -286.24 L78.90 -286.64 L82.20 -287.01 L85.51 -287.34 L88.84 -287.65 L92.18 -287.92 L95.53 -288.15 L98.89 -288.36 L102.27 -288.52 L105.66 -288.66" fill="none" stroke="#e25852" stroke-width="1.05" stroke-dasharray="3.4 2.4"/>
<path d="M139.44 190.48 L136.65 192.50 L133.86 194.51 L131.06 196.50 L128.24 198.48 L125.42 200.45 L122.59 202.40 L119.76 204.34 L116.91 206.27 L114.06 208.18 L111.20 210.07 L108.33 211.95 L105.45 213.82 L102.57 215.66 L99.67 217.50 L96.78 219.31 L93.87 221.11 L90.96 222.89 L88.03 224.66 L85.11 226.41 L82.17 228.14 L79.23 229.85 L76.29 231.55 L73.33 233.23 L70.37 234.89 L67.41 236.53 L64.43 238.15 L61.46 239.75 L58.47 241.33 L55.48 242.89 L52.48 244.44 L49.48 245.96 L46.48 247.46 L43.46 248.94 L40.44 250.40 L37.42 251.83 L34.39 253.25 L31.36 254.64 L28.32 256.01 L25.27 257.35 L22.22 258.67 L19.16 259.97 L16.10 261.25 L13.03 262.50 L9.96 263.72 L6.88 264.92 L3.79 266.09 L0.70 267.24 L-2.39 268.37 L-5.50 269.46 L-8.61 270.53 L-11.72 271.57 L-14.84 272.59 L-17.97 273.58 L-21.10 274.53 L-24.25 275.46 L-27.39 276.37 L-30.55 277.24 L-33.71 278.08 L-36.88 278.89 L-40.06 279.68 L-43.25 280.43 L-46.44 281.15 L-49.64 281.85 L-52.85 282.51 L-56.07 283.13 L-59.30 283.73 L-62.54 284.30 L-65.79 284.83 L-69.05 285.33 L-72.32 285.80 L-75.60 286.24 L-78.90 286.64 L-82.20 287.01 L-85.51 287.34 L-88.84 287.65 L-92.18 287.92 L-95.53 288.15 L-98.89 288.36 L-102.27 288.52 L-105.66 288.66" fill="none" stroke="#4c4cde" stroke-width="1.0" stroke-dasharray="3.4 2.4"/>
<path d="M-93.78 -313.79 L-92.23 -309.42 L-90.69 -304.99 L-89.16 -300.51 L-87.64 -295.98 L-86.12 -291.40 L-84.61 -286.77 L-83.10 -282.11 L-81.60 -277.39 L-80.10 -272.64 L-78.59 -267.85 L-77.09 -263.02 L-75.58 -258.16 L-74.08 -253.26 L-72.57 -248.32 L-71.06 -243.36 L-69.54 -238.36 L-68.03 -233.33 L-66.51 -228.28 L-64.98 -223.19 L-63.46 -218.08 L-61.93 -212.95 L-60.40 -207.79 L-58.86 -202.60 L-57.32 -197.39 L-55.78 -192.16 L-54.23 -186.90 L-52.68 -181.63 L-51.13 -176.33 L-49.57 -171.01 L-48.01 -165.68 L-46.44 -160.32 L-44.87 -154.95 L-43.30 -149.57 L-41.73 -144.16 L-40.15 -138.74 L-38.57 -133.31 L-36.98 -127.86 L-35.40 -122.40 L-33.81 -116.92 L-32.22 -111.43 L-30.62 -105.93 L-29.02 -100.42 L-27.42 -94.90 L-25.82 -89.37 L-24.22 -83.83 L-22.61 -78.28 L-21.01 -72.72 L-19.40 -67.16 L-17.79 -61.59 L-16.17 -56.01 L-14.56 -50.42 L-12.95 -44.83 L-11.33 -39.24 L-9.71 -33.64 L-8.10 -28.04 L-6.48 -22.44 L-4.86 -16.83 L-3.24 -11.22 L-1.62 -5.61 L0.00 -0.00 L1.62 5.61 L3.24 11.22 L4.86 16.83 L6.48 22.44 L8.10 28.04 L9.71 33.64 L11.33 39.24 L12.95 44.83 L14.56 50.42 L16.17 56.01 L17.79 61.59 L19.40 67.16 L21.01 72.72 L22.61 78.28 L24.22 83.83 L25.82 89.37 L27.42 94.90 L29.02 100.42 L30.62 105.93 L32.22 111.43 L33.81 116.92 L35.40 122.40 L36.98 127.86 L38.57 133.31 L40.15 138.74 L41.73 144.16 L43.30 149.57 L44.87 154.95 L46.44 160.32 L48.01 165.68 L49.57 171.01 L51.13 176.33 L52.68 181.63 L54.23 186.90 L55.78 192.16 L57.32 197.39 L58.86 202.60 L60.40 207.79 L61.93 212.95 L63.46 218.08 L64.98 223.19 L66.51 228.28 L68.03 233.33 L69.54 238.36 L71.06 243.36 L72.57 248.32 L74.08 253.26 L75.58 258.16 L77.09 263.02 L78.59 267.85 L80.10 272.64 L81.60 277.39 L83.10 282.11 L84.61 286.77 L86.12 291.40 L87.64 295.98 L89.16 300.51 L90.69 304.99 L92.23 309.42 L93.78 313.79" fill="none" stroke="#000" stroke-width="1.7" stroke-dasharray="8.7 5.8"/>
</g>
<g id="small">
<path fill="#348826" d="M-67.3 -324.0l2.5 2.5l-2.5 2.5l-2.5 -2.5zM-46.4 -317.7l2.5 2.5l-2.5 2.5l-2.5 -2.5zM-30.5 -301.8l2.5 2.5l-2.5 2.5l-2.5 -2.5zM-61.0 -273.6l2.5 2.5l-2.5 2.5l-2.5 -2.5zM-62.4 -265.9l2.5 2.5l-2.5 2.5l-2.5 -2.5zM-63.8 -263.9l2.5 2.5l-2.5 2.5l-2.5 -2.5zM-40.2 -263.6l2.5 2.5l-2.5 2.5l-2.5 -2.5zM-39.0 -259.3l2.5 2.5l-2.5 2.5l-2.5 -2.5zM-73.5 -259.9l2.5 2.5l-2.5 2.5l-2.5 -2.5zM46.2 -355.4l2.5 2.5l-2.5 2.5l-2.5 -2.5zM-0.8 -330.4l2.5 2.5l-2.5 2.5l-2.5 -2.5zM9.8 -326.3l2.5 2.5l-2.5 2.5l-2.5 -2.5zM16.6 -325.5l2.5 2.5l-2.5 2.5l-2.5 -2.5zM26.6 -332.3l2.5 2.5l-2.5 2.5l-2.5 -2.5zM38.8 -319.2l2.5 2.5l-2.5 2.5l-2.5 -2.5zM-11.0 -287.5l2.5 2.5l-2.5 2.5l-2.5 -2.5zM-63.7 -256.0l2.5 2.5l-2.5 2.5l-2.5 -2.5zM-74.5 -250.4l2.5 2.5l-2.5 2.5l-2.5 -2.5zM-42.8 -250.9l2.5 2.5l-2.5 2.5l-2.5 -2.5zM-29.4 -250.9l2.5 2.5l-2.5 2.5l-2.5 -2.5zM-12.0 -251.7l2.5 2.5l-2.5 2.5l-2.5 -2.5zM-10.7 -248.4l2.5 2.5l-2.5 2.5l-2.5 -2.5zM-4.1 -252.3l2.5 2.5l-2.5 2.5l-2.5 -2.5zM-58.6 -232.6l2.5 2.5l-2.5 2.5l-2.5 -2.5zM-26.9 -230.7l2.5 2.5l-2.5 2.5l-2.5 -2.5zM-34.3 -227.6l2.5 2.5l-2.5 2.5l-2.5 -2.5zM-39.6 -225.8l2.5 2.5l-2.5 2.5l-2.5 -2.5zM-54.6 -222.9l2.5 2.5l-2.5 2.5l-2.5 -2.5zM-15.6 -221.8l2.5 2.5l-2.5 2.5l-2.5 -2.5zM-5.4 -216.2l2.5 2.5l-2.5 2.5l-2.5 -2.5zM-99.8 -219.3l2.5 2.5l-2.5 2.5l-2.5 -2.5zM-74.5 -214.5l2.5 2.5l-2.5 2.5l-2.5 -2.5zM-75.8 -210.2l2.5 2.5l-2.5 2.5l-2.5 -2.5zM-38.0 -212.0l2.5 2.5l-2.5 2.5l-2.5 -2.5zM-116.3 -208.6l2.5 2.5l-2.5 2.5l-2.5 -2.5zM-123.1 -203.7l2.5 2.5l-2.5 2.5l-2.5 -2.5zM-106.3 -199.3l2.5 2.5l-2.5 2.5l-2.5 -2.5zM-49.9 -202.7l2.5 2.5l-2.5 2.5l-2.5 -2.5zM-30.3 -201.8l2.5 2.5l-2.5 2.5l-2.5 -2.5zM-34.0 -198.6l2.5 2.5l-2.5 2.5l-2.5 -2.5zM-1.0 -208.3l2.5 2.5l-2.5 2.5l-2.5 -2.5zM-1.6 -201.4l2.5 2.5l-2.5 2.5l-2.5 -2.5zM-6.2 -196.5l2.5 2.5l-2.5 2.5l-2.5 -2.5zM-64.6 -194.0l2.5 2.5l-2.5 2.5l-2.5 -2.5zM-65.2 -190.2l2.5 2.5l-2.5 2.5l-2.5 -2.5zM-71.4 -187.1l2.5 2.5l-2.5 2.5l-2.5 -2.5zM-135.6 -187.7l2.5 2.5l-2.5 2.5l-2.5 -2.5zM10.2 -306.8l2.5 2.5l-2.5 2.5l-2.5 -2.5zM9.8 -303.7l2.5 2.5l-2.5 2.5l-2.5 -2.5zM9.2 -300.5l2.5 2.5l-2.5 2.5l-2.5 -2.5zM22.7 -308.0l2.5 2.5l-2.5 2.5l-2.5 -2.5zM16.5 -294.9l2.5 2.5l-2.5 2.5l-2.5 -2.5zM64.9 -309.9l2.5 2.5l-2.5 2.5l-2.5 -2.5zM61.0 -302.4l2.5 2.5l-2.5 2.5l-2.5 -2.5zM66.6 -296.2l2.5 2.5l-2.5 2.5l-2.5 -2.5zM43.9 -291.2l2.5 2.5l-2.5 2.5l-2.5 -2.5zM44.1 -286.8l2.5 2.5l-2.5 2.5l-2.5 -2.5zM52.9 -290.2l2.5 2.5l-2.5 2.5l-2.5 -2.5zM31.7 -279.4l2.5 2.5l-2.5 2.5l-2.5 -2.5zM21.1 -275.9l2.5 2.5l-2.5 2.5l-2.5 -2.5zM7.7 -271.9l2.5 2.5l-2.5 2.5l-2.5 -2.5zM87.1 -279.0l2.5 2.5l-2.5 2.5l-2.5 -2.5zM7.7 -262.5l2.5 2.5l-2.5 2.5l-2.5 -2.5zM63.8 -265.0l2.5 2.5l-2.5 2.5l-2.5 -2.5zM105.8 -262.8l2.5 2.5l-2.5 2.5l-2.5 -2.5zM35.7 -257.2l2.5 2.5l-2.5 2.5l-2.5 -2.5zM62.2 -255.3l2.5 2.5l-2.5 2.5l-2.5 -2.5zM3.2 -253.6l2.5 2.5l-2.5 2.5l-2.5 -2.5zM5.7 -244.7l2.5 2.5l-2.5 2.5l-2.5 -2.5zM30.8 -246.6l2.5 2.5l-2.5 2.5l-2.5 -2.5zM18.3 -240.3l2.5 2.5l-2.5 2.5l-2.5 -2.5zM87.1 -240.1l2.5 2.5l-2.5 2.5l-2.5 -2.5zM42.6 -230.7l2.5 2.5l-2.5 2.5l-2.5 -2.5zM47.6 -227.0l2.5 2.5l-2.5 2.5l-2.5 -2.5zM19.6 -228.6l2.5 2.5l-2.5 2.5l-2.5 -2.5zM62.8 -226.0l2.5 2.5l-2.5 2.5l-2.5 -2.5zM105.2 -229.2l2.5 2.5l-2.5 2.5l-2.5 -2.5zM37.3 -221.8l2.5 2.5l-2.5 2.5l-2.5 -2.5zM1.7 -218.9l2.5 2.5l-2.5 2.5l-2.5 -2.5zM1.5 -207.1l2.5 2.5l-2.5 2.5l-2.5 -2.5zM26.7 -204.9l2.5 2.5l-2.5 2.5l-2.5 -2.5zM122.7 -208.6l2.5 2.5l-2.5 2.5l-2.5 -2.5zM111.2 -198.3l2.5 2.5l-2.5 2.5l-2.5 -2.5zM128.9 -198.6l2.5 2.5l-2.5 2.5l-2.5 -2.5zM26.1 -196.5l2.5 2.5l-2.5 2.5l-2.5 -2.5zM23.6 -195.2l2.5 2.5l-2.5 2.5l-2.5 -2.5zM11.7 -193.3l2.5 2.5l-2.5 2.5l-2.5 -2.5zM47.9 -187.1l2.5 2.5l-2.5 2.5l-2.5 -2.5zM60.3 -187.1l2.5 2.5l-2.5 2.5l-2.5 -2.5zM-129.4 -179.6l2.5 2.5l-2.5 2.5l-2.5 -2.5zM-100.1 -182.8l2.5 2.5l-2.5 2.5l-2.5 -2.5zM-65.2 -185.3l2.5 2.5l-2.5 2.5l-2.5 -2.5zM-44.0 -181.3l2.5 2.5l-2.5 2.5l-2.5 -2.5zM-38.4 -182.1l2.5 2.5l-2.5 2.5l-2.5 -2.5zM-45.9 -175.0l2.5 2.5l-2.5 2.5l-2.5 -2.5zM-8.5 -175.3l2.5 2.5l-2.5 2.5l-2.5 -2.5zM-107.6 -173.8l2.5 2.5l-2.5 2.5l-2.5 -2.5zM-120.9 -169.0l2.5 2.5l-2.5 2.5l-2.5 -2.5zM-114.8 -167.4l2.5 2.5l-2.5 2.5l-2.5 -2.5zM-65.8 -166.6l2.5 2.5l-2.5 2.5l-2.5 -2.5zM-63.7 -162.8l2.5 2.5l-2.5 2.5l-2.5 -2.5zM-27.4 -168.2l2.5 2.5l-2.5 2.5l-2.5 -2.5zM-2.0 -167.6l2.5 2.5l-2.5 2.5l-2.5 -2.5zM-107.2 -160.9l2.5 2.5l-2.5 2.5l-2.5 -2.5zM-47.7 -160.9l2.5 2.5l-2.5 2.5l-2.5 -2.5zM-17.2 -162.8l2.5 2.5l-2.5 2.5l-2.5 -2.5zM-21.6 -158.2l2.5 2.5l-2.5 2.5l-2.5 -2.5zM-12.8 -158.5l2.5 2.5l-2.5 2.5l-2.5 -2.5zM-37.8 -156.0l2.5 2.5l-2.5 2.5l-2.5 -2.5zM-39.6 -152.8l2.5 2.5l-2.5 2.5l-2.5 -2.5zM-47.1 -152.2l2.5 2.5l-2.5 2.5l-2.5 -2.5zM-42.8 -150.4l2.5 2.5l-2.5 2.5l-2.5 -2.5zM-28.4 -153.5l2.5 2.5l-2.5 2.5l-2.5 -2.5zM-17.0 -154.3l2.5 2.5l-2.5 2.5l-2.5 -2.5zM-15.3 -151.8l2.5 2.5l-2.5 2.5l-2.5 -2.5zM-106.7 -149.7l2.5 2.5l-2.5 2.5l-2.5 -2.5zM-41.5 -145.4l2.5 2.5l-2.5 2.5l-2.5 -2.5zM-87.0 -144.5l2.5 2.5l-2.5 2.5l-2.5 -2.5zM-17.8 -142.3l2.5 2.5l-2.5 2.5l-2.5 -2.5zM-10.3 -140.6l2.5 2.5l-2.5 2.5l-2.5 -2.5zM-89.5 -138.8l2.5 2.5l-2.5 2.5l-2.5 -2.5zM-78.5 -137.5l2.5 2.5l-2.5 2.5l-2.5 -2.5zM-34.9 -138.8l2.5 2.5l-2.5 2.5l-2.5 -2.5zM-55.8 -135.8l2.5 2.5l-2.5 2.5l-2.5 -2.5zM-50.9 -136.6l2.5 2.5l-2.5 2.5l-2.5 -2.5zM-25.6 -136.3l2.5 2.5l-2.5 2.5l-2.5 -2.5zM-92.4 -132.0l2.5 2.5l-2.5 2.5l-2.5 -2.5zM-16.6 -132.9l2.5 2.5l-2.5 2.5l-2.5 -2.5zM-27.8 -127.7l2.5 2.5l-2.5 2.5l-2.5 -2.5zM-45.9 -127.5l2.5 2.5l-2.5 2.5l-2.5 -2.5zM-42.8 -128.8l2.5 2.5l-2.5 2.5l-2.5 -2.5zM-40.3 -129.8l2.5 2.5l-2.5 2.5l-2.5 -2.5zM-2.9 -127.9l2.5 2.5l-2.5 2.5l-2.5 -2.5zM-111.9 -125.2l2.5 2.5l-2.5 2.5l-2.5 -2.5zM-80.8 -125.0l2.5 2.5l-2.5 2.5l-2.5 -2.5zM-54.0 -124.8l2.5 2.5l-2.5 2.5l-2.5 -2.5zM-42.8 -120.8l2.5 2.5l-2.5 2.5l-2.5 -2.5zM-108.4 -118.6l2.5 2.5l-2.5 2.5l-2.5 -2.5zM-52.7 -106.4l2.5 2.5l-2.5 2.5l-2.5 -2.5zM-60.8 -104.5l2.5 2.5l-2.5 2.5l-2.5 -2.5zM-44.4 -101.7l2.5 2.5l-2.5 2.5l-2.5 -2.5zM-70.5 -98.0l2.5 2.5l-2.5 2.5l-2.5 -2.5zM-62.7 -99.9l2.5 2.5l-2.5 2.5l-2.5 -2.5zM-60.2 -97.4l2.5 2.5l-2.5 2.5l-2.5 -2.5zM-55.2 -99.2l2.5 2.5l-2.5 2.5l-2.5 -2.5zM-51.7 -96.4l2.5 2.5l-2.5 2.5l-2.5 -2.5zM-46.5 -95.1l2.5 2.5l-2.5 2.5l-2.5 -2.5zM-42.4 -94.0l2.5 2.5l-2.5 2.5l-2.5 -2.5zM-58.3 -94.3l2.5 2.5l-2.5 2.5l-2.5 -2.5zM-61.4 -93.0l2.5 2.5l-2.5 2.5l-2.5 -2.5zM-81.8 -89.9l2.5 2.5l-2.5 2.5l-2.5 -2.5zM-49.6 -88.7l2.5 2.5l-2.5 2.5l-2.5 -2.5zM-47.7 -86.8l2.5 2.5l-2.5 2.5l-2.5 -2.5zM-101.3 -77.8l2.5 2.5l-2.5 2.5l-2.5 -2.5zM-47.7 -76.6l2.5 2.5l-2.5 2.5l-2.5 -2.5zM-49.6 -70.6l2.5 2.5l-2.5 2.5l-2.5 -2.5zM-65.2 -70.0l2.5 2.5l-2.5 2.5l-2.5 -2.5zM-101.7 -69.1l2.5 2.5l-2.5 2.5l-2.5 -2.5zM-89.7 -69.1l2.5 2.5l-2.5 2.5l-2.5 -2.5zM-83.9 -61.9l2.5 2.5l-2.5 2.5l-2.5 -2.5zM-59.6 -60.6l2.5 2.5l-2.5 2.5l-2.5 -2.5zM-43.4 -61.2l2.5 2.5l-2.5 2.5l-2.5 -2.5zM40.4 -183.4l2.5 2.5l-2.5 2.5l-2.5 -2.5zM42.9 -177.8l2.5 2.5l-2.5 2.5l-2.5 -2.5zM41.0 -173.0l2.5 2.5l-2.5 2.5l-2.5 -2.5zM20.4 -167.4l2.5 2.5l-2.5 2.5l-2.5 -2.5zM47.6 -167.2l2.5 2.5l-2.5 2.5l-2.5 -2.5zM13.6 -163.4l2.5 2.5l-2.5 2.5l-2.5 -2.5zM34.8 -164.1l2.5 2.5l-2.5 2.5l-2.5 -2.5zM55.0 -164.3l2.5 2.5l-2.5 2.5l-2.5 -2.5zM86.5 -161.9l2.5 2.5l-2.5 2.5l-2.5 -2.5zM7.4 -160.3l2.5 2.5l-2.5 2.5l-2.5 -2.5zM5.5 -157.8l2.5 2.5l-2.5 2.5l-2.5 -2.5zM3.2 -154.1l2.5 2.5l-2.5 2.5l-2.5 -2.5zM8.6 -153.5l2.5 2.5l-2.5 2.5l-2.5 -2.5zM15.8 -156.0l2.5 2.5l-2.5 2.5l-2.5 -2.5zM1.7 -147.9l2.5 2.5l-2.5 2.5l-2.5 -2.5zM24.8 -153.8l2.5 2.5l-2.5 2.5l-2.5 -2.5zM24.2 -148.9l2.5 2.5l-2.5 2.5l-2.5 -2.5zM28.5 -150.1l2.5 2.5l-2.5 2.5l-2.5 -2.5zM29.8 -147.2l2.5 2.5l-2.5 2.5l-2.5 -2.5zM36.3 -153.5l2.5 2.5l-2.5 2.5l-2.5 -2.5zM41.9 -155.6l2.5 2.5l-2.5 2.5l-2.5 -2.5zM53.8 -159.1l2.5 2.5l-2.5 2.5l-2.5 -2.5zM63.4 -160.1l2.5 2.5l-2.5 2.5l-2.5 -2.5zM64.7 -160.9l2.5 2.5l-2.5 2.5l-2.5 -2.5zM84.3 -154.7l2.5 2.5l-2.5 2.5l-2.5 -2.5zM81.5 -146.6l2.5 2.5l-2.5 2.5l-2.5 -2.5zM49.7 -146.4l2.5 2.5l-2.5 2.5l-2.5 -2.5zM53.5 -146.0l2.5 2.5l-2.5 2.5l-2.5 -2.5zM47.6 -136.6l2.5 2.5l-2.5 2.5l-2.5 -2.5zM7.4 -134.4l2.5 2.5l-2.5 2.5l-2.5 -2.5zM5.2 -132.3l2.5 2.5l-2.5 2.5l-2.5 -2.5zM18.0 -132.0l2.5 2.5l-2.5 2.5l-2.5 -2.5zM21.4 -130.2l2.5 2.5l-2.5 2.5l-2.5 -2.5zM12.7 -128.9l2.5 2.5l-2.5 2.5l-2.5 -2.5zM41.0 -130.8l2.5 2.5l-2.5 2.5l-2.5 -2.5zM64.1 -132.7l2.5 2.5l-2.5 2.5l-2.5 -2.5zM67.8 -132.0l2.5 2.5l-2.5 2.5l-2.5 -2.5zM81.9 -133.9l2.5 2.5l-2.5 2.5l-2.5 -2.5zM115.2 -132.0l2.5 2.5l-2.5 2.5l-2.5 -2.5zM99.6 -128.3l2.5 2.5l-2.5 2.5l-2.5 -2.5zM4.2 -125.8l2.5 2.5l-2.5 2.5l-2.5 -2.5zM11.5 -123.8l2.5 2.5l-2.5 2.5l-2.5 -2.5zM20.8 -125.0l2.5 2.5l-2.5 2.5l-2.5 -2.5zM28.5 -122.9l2.5 2.5l-2.5 2.5l-2.5 -2.5zM60.1 -126.9l2.5 2.5l-2.5 2.5l-2.5 -2.5zM45.1 -120.4l2.5 2.5l-2.5 2.5l-2.5 -2.5zM84.3 -120.7l2.5 2.5l-2.5 2.5l-2.5 -2.5zM106.2 -115.8l2.5 2.5l-2.5 2.5l-2.5 -2.5zM55.7 -114.6l2.5 2.5l-2.5 2.5l-2.5 -2.5zM57.8 -107.1l2.5 2.5l-2.5 2.5l-2.5 -2.5zM75.9 -106.7l2.5 2.5l-2.5 2.5l-2.5 -2.5zM75.0 -102.7l2.5 2.5l-2.5 2.5l-2.5 -2.5zM84.0 -108.0l2.5 2.5l-2.5 2.5l-2.5 -2.5zM80.9 -101.1l2.5 2.5l-2.5 2.5l-2.5 -2.5zM92.5 -100.7l2.5 2.5l-2.5 2.5l-2.5 -2.5zM44.1 -101.1l2.5 2.5l-2.5 2.5l-2.5 -2.5zM61.0 -98.4l2.5 2.5l-2.5 2.5l-2.5 -2.5zM51.0 -96.5l2.5 2.5l-2.5 2.5l-2.5 -2.5zM76.5 -97.0l2.5 2.5l-2.5 2.5l-2.5 -2.5zM45.4 -90.8l2.5 2.5l-2.5 2.5l-2.5 -2.5zM44.1 -89.3l2.5 2.5l-2.5 2.5l-2.5 -2.5zM88.7 -90.9l2.5 2.5l-2.5 2.5l-2.5 -2.5zM70.1 -87.8l2.5 2.5l-2.5 2.5l-2.5 -2.5zM75.3 -86.2l2.5 2.5l-2.5 2.5l-2.5 -2.5zM76.3 -83.7l2.5 2.5l-2.5 2.5l-2.5 -2.5zM46.4 -83.4l2.5 2.5l-2.5 2.5l-2.5 -2.5zM55.3 -83.0l2.5 2.5l-2.5 2.5l-2.5 -2.5zM64.7 -82.0l2.5 2.5l-2.5 2.5l-2.5 -2.5zM112.7 -87.0l2.5 2.5l-2.5 2.5l-2.5 -2.5zM118.7 -79.1l2.5 2.5l-2.5 2.5l-2.5 -2.5zM56.2 -78.7l2.5 2.5l-2.5 2.5l-2.5 -2.5zM71.5 -78.1l2.5 2.5l-2.5 2.5l-2.5 -2.5zM74.7 -79.9l2.5 2.5l-2.5 2.5l-2.5 -2.5zM65.3 -76.8l2.5 2.5l-2.5 2.5l-2.5 -2.5zM97.7 -76.8l2.5 2.5l-2.5 2.5l-2.5 -2.5zM76.8 -75.2l2.5 2.5l-2.5 2.5l-2.5 -2.5zM51.9 -72.8l2.5 2.5l-2.5 2.5l-2.5 -2.5zM61.6 -74.3l2.5 2.5l-2.5 2.5l-2.5 -2.5zM60.1 -72.1l2.5 2.5l-2.5 2.5l-2.5 -2.5zM58.1 -68.1l2.5 2.5l-2.5 2.5l-2.5 -2.5zM95.9 -68.1l2.5 2.5l-2.5 2.5l-2.5 -2.5zM95.9 -63.3l2.5 2.5l-2.5 2.5l-2.5 -2.5zM46.0 -61.9l2.5 2.5l-2.5 2.5l-2.5 -2.5zM52.9 -61.9l2.5 2.5l-2.5 2.5l-2.5 -2.5zM-36.7 -120.1l2.5 2.5l-2.5 2.5l-2.5 -2.5zM-36.4 -117.4l2.5 2.5l-2.5 2.5l-2.5 -2.5zM-40.9 -112.9l2.5 2.5l-2.5 2.5l-2.5 -2.5zM-29.5 -113.2l2.5 2.5l-2.5 2.5l-2.5 -2.5zM-37.0 -105.0l2.5 2.5l-2.5 2.5l-2.5 -2.5zM-33.4 -104.1l2.5 2.5l-2.5 2.5l-2.5 -2.5zM-24.6 -105.8l2.5 2.5l-2.5 2.5l-2.5 -2.5zM-10.2 -116.8l2.5 2.5l-2.5 2.5l-2.5 -2.5zM-14.4 -114.7l2.5 2.5l-2.5 2.5l-2.5 -2.5zM-12.0 -115.6l2.5 2.5l-2.5 2.5l-2.5 -2.5zM-4.5 -112.9l2.5 2.5l-2.5 2.5l-2.5 -2.5zM-7.8 -109.9l2.5 2.5l-2.5 2.5l-2.5 -2.5zM-5.4 -110.8l2.5 2.5l-2.5 2.5l-2.5 -2.5zM-14.1 -110.5l2.5 2.5l-2.5 2.5l-2.5 -2.5zM-15.0 -107.1l2.5 2.5l-2.5 2.5l-2.5 -2.5zM-18.3 -105.0l2.5 2.5l-2.5 2.5l-2.5 -2.5zM-13.2 -105.6l2.5 2.5l-2.5 2.5l-2.5 -2.5zM-11.4 -102.0l2.5 2.5l-2.5 2.5l-2.5 -2.5zM-6.6 -100.7l2.5 2.5l-2.5 2.5l-2.5 -2.5zM-14.1 -98.7l2.5 2.5l-2.5 2.5l-2.5 -2.5zM-12.0 -96.6l2.5 2.5l-2.5 2.5l-2.5 -2.5zM-14.1 -94.2l2.5 2.5l-2.5 2.5l-2.5 -2.5zM-19.2 -95.4l2.5 2.5l-2.5 2.5l-2.5 -2.5zM3.6 -115.0l2.5 2.5l-2.5 2.5l-2.5 -2.5zM6.1 -114.4l2.5 2.5l-2.5 2.5l-2.5 -2.5zM13.0 -112.6l2.5 2.5l-2.5 2.5l-2.5 -2.5zM8.5 -111.1l2.5 2.5l-2.5 2.5l-2.5 -2.5zM4.9 -110.8l2.5 2.5l-2.5 2.5l-2.5 -2.5zM6.1 -108.4l2.5 2.5l-2.5 2.5l-2.5 -2.5zM0.6 -108.1l2.5 2.5l-2.5 2.5l-2.5 -2.5zM1.8 -106.2l2.5 2.5l-2.5 2.5l-2.5 -2.5zM-0.3 -102.6l2.5 2.5l-2.5 2.5l-2.5 -2.5zM0.0 -98.4l2.5 2.5l-2.5 2.5l-2.5 -2.5zM3.6 -98.7l2.5 2.5l-2.5 2.5l-2.5 -2.5zM22.3 -114.4l2.5 2.5l-2.5 2.5l-2.5 -2.5zM33.1 -117.7l2.5 2.5l-2.5 2.5l-2.5 -2.5zM31.6 -115.3l2.5 2.5l-2.5 2.5l-2.5 -2.5zM30.7 -113.2l2.5 2.5l-2.5 2.5l-2.5 -2.5zM33.7 -112.9l2.5 2.5l-2.5 2.5l-2.5 -2.5zM26.2 -109.9l2.5 2.5l-2.5 2.5l-2.5 -2.5zM38.0 -107.0l2.5 2.5l-2.5 2.5l-2.5 -2.5zM24.1 -104.9l2.5 2.5l-2.5 2.5l-2.5 -2.5zM25.9 -98.4l2.5 2.5l-2.5 2.5l-2.5 -2.5zM32.4 -96.6l2.5 2.5l-2.5 2.5l-2.5 -2.5zM26.8 -93.3l2.5 2.5l-2.5 2.5l-2.5 -2.5zM19.6 -91.2l2.5 2.5l-2.5 2.5l-2.5 -2.5zM-25.2 -97.2l2.5 2.5l-2.5 2.5l-2.5 -2.5zM-27.4 -93.6l2.5 2.5l-2.5 2.5l-2.5 -2.5zM-24.3 -92.1l2.5 2.5l-2.5 2.5l-2.5 -2.5zM-26.5 -88.8l2.5 2.5l-2.5 2.5l-2.5 -2.5zM-28.9 -86.4l2.5 2.5l-2.5 2.5l-2.5 -2.5zM-33.7 -87.0l2.5 2.5l-2.5 2.5l-2.5 -2.5zM-32.8 -79.5l2.5 2.5l-2.5 2.5l-2.5 -2.5zM12.4 -97.5l2.5 2.5l-2.5 2.5l-2.5 -2.5zM10.6 -95.4l2.5 2.5l-2.5 2.5l-2.5 -2.5zM7.3 -93.9l2.5 2.5l-2.5 2.5l-2.5 -2.5zM9.1 -92.1l2.5 2.5l-2.5 2.5l-2.5 -2.5zM10.9 -92.4l2.5 2.5l-2.5 2.5l-2.5 -2.5zM3.6 -89.4l2.5 2.5l-2.5 2.5l-2.5 -2.5zM-2.4 -88.8l2.5 2.5l-2.5 2.5l-2.5 -2.5zM-10.2 -90.9l2.5 2.5l-2.5 2.5l-2.5 -2.5zM-12.0 -88.8l2.5 2.5l-2.5 2.5l-2.5 -2.5zM-8.4 -87.6l2.5 2.5l-2.5 2.5l-2.5 -2.5zM-13.2 -85.2l2.5 2.5l-2.5 2.5l-2.5 -2.5zM-10.5 -84.0l2.5 2.5l-2.5 2.5l-2.5 -2.5zM-4.8 -84.6l2.5 2.5l-2.5 2.5l-2.5 -2.5zM-2.4 -82.8l2.5 2.5l-2.5 2.5l-2.5 -2.5zM-0.6 -81.6l2.5 2.5l-2.5 2.5l-2.5 -2.5zM-18.3 -81.9l2.5 2.5l-2.5 2.5l-2.5 -2.5zM-6.0 -77.7l2.5 2.5l-2.5 2.5l-2.5 -2.5zM-0.6 -75.5l2.5 2.5l-2.5 2.5l-2.5 -2.5zM6.7 -82.5l2.5 2.5l-2.5 2.5l-2.5 -2.5zM8.5 -80.4l2.5 2.5l-2.5 2.5l-2.5 -2.5zM8.2 -77.7l2.5 2.5l-2.5 2.5l-2.5 -2.5zM5.8 -75.5l2.5 2.5l-2.5 2.5l-2.5 -2.5zM34.0 -85.2l2.5 2.5l-2.5 2.5l-2.5 -2.5zM27.1 -78.0l2.5 2.5l-2.5 2.5l-2.5 -2.5zM35.9 -79.2l2.5 2.5l-2.5 2.5l-2.5 -2.5zM39.8 -79.5l2.5 2.5l-2.5 2.5l-2.5 -2.5zM39.2 -75.8l2.5 2.5l-2.5 2.5l-2.5 -2.5zM36.5 -73.7l2.5 2.5l-2.5 2.5l-2.5 -2.5zM33.4 -73.4l2.5 2.5l-2.5 2.5l-2.5 -2.5zM24.4 -71.0l2.5 2.5l-2.5 2.5l-2.5 -2.5zM16.0 -79.2l2.5 2.5l-2.5 2.5l-2.5 -2.5zM20.5 -78.0l2.5 2.5l-2.5 2.5l-2.5 -2.5zM13.9 -76.4l2.5 2.5l-2.5 2.5l-2.5 -2.5zM17.8 -74.9l2.5 2.5l-2.5 2.5l-2.5 -2.5zM11.5 -72.5l2.5 2.5l-2.5 2.5l-2.5 -2.5zM15.7 -71.9l2.5 2.5l-2.5 2.5l-2.5 -2.5zM9.1 -68.0l2.5 2.5l-2.5 2.5l-2.5 -2.5zM14.2 -67.4l2.5 2.5l-2.5 2.5l-2.5 -2.5zM18.4 -65.3l2.5 2.5l-2.5 2.5l-2.5 -2.5zM19.3 -63.2l2.5 2.5l-2.5 2.5l-2.5 -2.5zM3.6 -66.2l2.5 2.5l-2.5 2.5l-2.5 -2.5zM-13.8 -76.4l2.5 2.5l-2.5 2.5l-2.5 -2.5zM-10.8 -74.9l2.5 2.5l-2.5 2.5l-2.5 -2.5zM-12.6 -71.9l2.5 2.5l-2.5 2.5l-2.5 -2.5zM-8.4 -71.9l2.5 2.5l-2.5 2.5l-2.5 -2.5zM-10.2 -69.5l2.5 2.5l-2.5 2.5l-2.5 -2.5zM-5.4 -68.3l2.5 2.5l-2.5 2.5l-2.5 -2.5zM-2.4 -68.9l2.5 2.5l-2.5 2.5l-2.5 -2.5zM-7.8 -65.9l2.5 2.5l-2.5 2.5l-2.5 -2.5zM-4.8 -64.7l2.5 2.5l-2.5 2.5l-2.5 -2.5zM-10.2 -63.8l2.5 2.5l-2.5 2.5l-2.5 -2.5zM-13.2 -63.2l2.5 2.5l-2.5 2.5l-2.5 -2.5zM-24.3 -74.0l2.5 2.5l-2.5 2.5l-2.5 -2.5zM-26.5 -71.3l2.5 2.5l-2.5 2.5l-2.5 -2.5zM-21.0 -71.0l2.5 2.5l-2.5 2.5l-2.5 -2.5zM-23.4 -68.9l2.5 2.5l-2.5 2.5l-2.5 -2.5zM-19.8 -67.1l2.5 2.5l-2.5 2.5l-2.5 -2.5zM-18.0 -64.7l2.5 2.5l-2.5 2.5l-2.5 -2.5zM-19.8 -62.3l2.5 2.5l-2.5 2.5l-2.5 -2.5zM-16.2 -62.3l2.5 2.5l-2.5 2.5l-2.5 -2.5zM-36.7 -67.4l2.5 2.5l-2.5 2.5l-2.5 -2.5zM-32.5 -63.2l2.5 2.5l-2.5 2.5l-2.5 -2.5zM39.2 -68.3l2.5 2.5l-2.5 2.5l-2.5 -2.5zM36.2 -66.8l2.5 2.5l-2.5 2.5l-2.5 -2.5zM33.1 -65.3l2.5 2.5l-2.5 2.5l-2.5 -2.5zM30.1 -63.8l2.5 2.5l-2.5 2.5l-2.5 -2.5zM27.7 -62.3l2.5 2.5l-2.5 2.5l-2.5 -2.5zM10.9 -62.3l2.5 2.5l-2.5 2.5l-2.5 -2.5zM8.5 -61.7l2.5 2.5l-2.5 2.5l-2.5 -2.5zM2.7 -61.4l2.5 2.5l-2.5 2.5l-2.5 -2.5zM-31.9 -58.1l2.5 2.5l-2.5 2.5l-2.5 -2.5zM-24.0 -56.0l2.5 2.5l-2.5 2.5l-2.5 -2.5zM-19.2 -58.1l2.5 2.5l-2.5 2.5l-2.5 -2.5zM-15.0 -59.9l2.5 2.5l-2.5 2.5l-2.5 -2.5zM-11.4 -59.3l2.5 2.5l-2.5 2.5l-2.5 -2.5zM-7.8 -58.1l2.5 2.5l-2.5 2.5l-2.5 -2.5zM-4.2 -57.8l2.5 2.5l-2.5 2.5l-2.5 -2.5zM-0.6 -59.3l2.5 2.5l-2.5 2.5l-2.5 -2.5zM0.6 -54.5l2.5 2.5l-2.5 2.5l-2.5 -2.5zM6.1 -56.3l2.5 2.5l-2.5 2.5l-2.5 -2.5zM11.5 -59.3l2.5 2.5l-2.5 2.5l-2.5 -2.5zM13.9 -57.8l2.5 2.5l-2.5 2.5l-2.5 -2.5zM18.7 -57.5l2.5 2.5l-2.5 2.5l-2.5 -2.5zM22.3 -57.8l2.5 2.5l-2.5 2.5l-2.5 -2.5zM25.9 -59.3l2.5 2.5l-2.5 2.5l-2.5 -2.5zM34.3 -57.2l2.5 2.5l-2.5 2.5l-2.5 -2.5zM31.3 -54.8l2.5 2.5l-2.5 2.5l-2.5 -2.5zM-39.1 -53.3l2.5 2.5l-2.5 2.5l-2.5 -2.5zM-37.0 -51.2l2.5 2.5l-2.5 2.5l-2.5 -2.5zM-30.1 -51.5l2.5 2.5l-2.5 2.5l-2.5 -2.5zM-26.8 -48.2l2.5 2.5l-2.5 2.5l-2.5 -2.5zM-23.4 -53.3l2.5 2.5l-2.5 2.5l-2.5 -2.5zM-21.6 -49.4l2.5 2.5l-2.5 2.5l-2.5 -2.5zM-18.6 -50.9l2.5 2.5l-2.5 2.5l-2.5 -2.5zM-15.6 -53.9l2.5 2.5l-2.5 2.5l-2.5 -2.5zM-13.8 -51.5l2.5 2.5l-2.5 2.5l-2.5 -2.5zM-10.2 -52.7l2.5 2.5l-2.5 2.5l-2.5 -2.5zM-9.0 -49.7l2.5 2.5l-2.5 2.5l-2.5 -2.5zM-5.4 -49.4l2.5 2.5l-2.5 2.5l-2.5 -2.5zM-1.8 -48.5l2.5 2.5l-2.5 2.5l-2.5 -2.5zM0.6 -47.6l2.5 2.5l-2.5 2.5l-2.5 -2.5zM3.6 -51.5l2.5 2.5l-2.5 2.5l-2.5 -2.5zM13.9 -50.9l2.5 2.5l-2.5 2.5l-2.5 -2.5zM15.7 -48.5l2.5 2.5l-2.5 2.5l-2.5 -2.5zM24.1 -53.9l2.5 2.5l-2.5 2.5l-2.5 -2.5zM25.3 -50.9l2.5 2.5l-2.5 2.5l-2.5 -2.5zM28.3 -52.7l2.5 2.5l-2.5 2.5l-2.5 -2.5zM30.7 -50.3l2.5 2.5l-2.5 2.5l-2.5 -2.5zM23.5 -47.9l2.5 2.5l-2.5 2.5l-2.5 -2.5zM-31.3 -43.6l2.5 2.5l-2.5 2.5l-2.5 -2.5zM-33.1 -41.8l2.5 2.5l-2.5 2.5l-2.5 -2.5zM-24.3 -44.2l2.5 2.5l-2.5 2.5l-2.5 -2.5zM-20.7 -42.4l2.5 2.5l-2.5 2.5l-2.5 -2.5zM-19.2 -46.1l2.5 2.5l-2.5 2.5l-2.5 -2.5zM-9.6 -43.0l2.5 2.5l-2.5 2.5l-2.5 -2.5zM-5.4 -40.9l2.5 2.5l-2.5 2.5l-2.5 -2.5zM10.3 -46.1l2.5 2.5l-2.5 2.5l-2.5 -2.5zM12.7 -44.8l2.5 2.5l-2.5 2.5l-2.5 -2.5zM19.9 -44.5l2.5 2.5l-2.5 2.5l-2.5 -2.5zM22.3 -46.7l2.5 2.5l-2.5 2.5l-2.5 -2.5zM27.7 -46.1l2.5 2.5l-2.5 2.5l-2.5 -2.5zM39.2 -45.5l2.5 2.5l-2.5 2.5l-2.5 -2.5zM43.4 -43.6l2.5 2.5l-2.5 2.5l-2.5 -2.5zM8.5 -41.8l2.5 2.5l-2.5 2.5l-2.5 -2.5zM10.9 -42.4l2.5 2.5l-2.5 2.5l-2.5 -2.5zM-40.9 -37.9l2.5 2.5l-2.5 2.5l-2.5 -2.5zM-37.3 -36.7l2.5 2.5l-2.5 2.5l-2.5 -2.5zM-30.1 -39.4l2.5 2.5l-2.5 2.5l-2.5 -2.5zM-30.7 -35.8l2.5 2.5l-2.5 2.5l-2.5 -2.5zM-22.8 -38.2l2.5 2.5l-2.5 2.5l-2.5 -2.5zM-14.4 -40.0l2.5 2.5l-2.5 2.5l-2.5 -2.5zM-17.1 -36.7l2.5 2.5l-2.5 2.5l-2.5 -2.5zM-2.4 -38.5l2.5 2.5l-2.5 2.5l-2.5 -2.5zM0.6 -37.0l2.5 2.5l-2.5 2.5l-2.5 -2.5zM4.3 -36.4l2.5 2.5l-2.5 2.5l-2.5 -2.5zM8.5 -35.8l2.5 2.5l-2.5 2.5l-2.5 -2.5zM23.8 -40.9l2.5 2.5l-2.5 2.5l-2.5 -2.5zM36.2 -38.8l2.5 2.5l-2.5 2.5l-2.5 -2.5zM35.0 -36.4l2.5 2.5l-2.5 2.5l-2.5 -2.5zM24.7 -35.8l2.5 2.5l-2.5 2.5l-2.5 -2.5zM-31.9 -33.4l2.5 2.5l-2.5 2.5l-2.5 -2.5zM-28.6 -34.0l2.5 2.5l-2.5 2.5l-2.5 -2.5zM-24.0 -35.2l2.5 2.5l-2.5 2.5l-2.5 -2.5zM-20.4 -34.0l2.5 2.5l-2.5 2.5l-2.5 -2.5zM-12.6 -34.6l2.5 2.5l-2.5 2.5l-2.5 -2.5zM-9.0 -33.1l2.5 2.5l-2.5 2.5l-2.5 -2.5zM-5.4 -34.0l2.5 2.5l-2.5 2.5l-2.5 -2.5zM-1.8 -33.4l2.5 2.5l-2.5 2.5l-2.5 -2.5zM0.6 -34.0l2.5 2.5l-2.5 2.5l-2.5 -2.5zM5.5 -33.4l2.5 2.5l-2.5 2.5l-2.5 -2.5zM-10.8 -30.4l2.5 2.5l-2.5 2.5l-2.5 -2.5zM-7.2 -29.8l2.5 2.5l-2.5 2.5l-2.5 -2.5zM-3.0 -30.4l2.5 2.5l-2.5 2.5l-2.5 -2.5zM4.3 -30.4l2.5 2.5l-2.5 2.5l-2.5 -2.5zM8.5 -31.0l2.5 2.5l-2.5 2.5l-2.5 -2.5zM10.9 -29.2l2.5 2.5l-2.5 2.5l-2.5 -2.5zM17.2 -30.4l2.5 2.5l-2.5 2.5l-2.5 -2.5zM22.9 -31.6l2.5 2.5l-2.5 2.5l-2.5 -2.5zM21.7 -28.0l2.5 2.5l-2.5 2.5l-2.5 -2.5zM-38.5 -28.0l2.5 2.5l-2.5 2.5l-2.5 -2.5zM-28.3 -28.0l2.5 2.5l-2.5 2.5l-2.5 -2.5zM-12.0 -26.8l2.5 2.5l-2.5 2.5l-2.5 -2.5zM-5.4 -26.2l2.5 2.5l-2.5 2.5l-2.5 -2.5zM0.0 -25.6l2.5 2.5l-2.5 2.5l-2.5 -2.5zM6.7 -26.8l2.5 2.5l-2.5 2.5l-2.5 -2.5zM10.9 -25.6l2.5 2.5l-2.5 2.5l-2.5 -2.5zM6.7 -23.8l2.5 2.5l-2.5 2.5l-2.5 -2.5zM10.9 -23.2l2.5 2.5l-2.5 2.5l-2.5 -2.5zM29.2 -25.6l2.5 2.5l-2.5 2.5l-2.5 -2.5zM-9.0 -23.2l2.5 2.5l-2.5 2.5l-2.5 -2.5zM-37.3 -21.4l2.5 2.5l-2.5 2.5l-2.5 -2.5zM-31.6 -23.2l2.5 2.5l-2.5 2.5l-2.5 -2.5zM-26.5 -23.8l2.5 2.5l-2.5 2.5l-2.5 -2.5zM-28.9 -21.4l2.5 2.5l-2.5 2.5l-2.5 -2.5zM-20.7 -22.0l2.5 2.5l-2.5 2.5l-2.5 -2.5zM-19.2 -19.0l2.5 2.5l-2.5 2.5l-2.5 -2.5zM-21.0 -17.2l2.5 2.5l-2.5 2.5l-2.5 -2.5zM-2.4 -20.2l2.5 2.5l-2.5 2.5l-2.5 -2.5zM0.6 -20.8l2.5 2.5l-2.5 2.5l-2.5 -2.5zM4.3 -19.6l2.5 2.5l-2.5 2.5l-2.5 -2.5zM7.3 -18.4l2.5 2.5l-2.5 2.5l-2.5 -2.5zM0.0 -17.8l2.5 2.5l-2.5 2.5l-2.5 -2.5zM16.6 -19.3l2.5 2.5l-2.5 2.5l-2.5 -2.5zM18.7 -20.5l2.5 2.5l-2.5 2.5l-2.5 -2.5zM-10.8 -18.4l2.5 2.5l-2.5 2.5l-2.5 -2.5zM-15.6 -15.4l2.5 2.5l-2.5 2.5l-2.5 -2.5zM-10.2 -15.4l2.5 2.5l-2.5 2.5l-2.5 -2.5zM-13.2 -12.9l2.5 2.5l-2.5 2.5l-2.5 -2.5zM-9.6 -11.7l2.5 2.5l-2.5 2.5l-2.5 -2.5zM4.3 -16.0l2.5 2.5l-2.5 2.5l-2.5 -2.5zM9.1 -17.2l2.5 2.5l-2.5 2.5l-2.5 -2.5zM41.6 -16.9l2.5 2.5l-2.5 2.5l-2.5 -2.5zM30.7 -14.4l2.5 2.5l-2.5 2.5l-2.5 -2.5zM27.1 -11.1l2.5 2.5l-2.5 2.5l-2.5 -2.5zM39.8 -11.7l2.5 2.5l-2.5 2.5l-2.5 -2.5zM18.1 -11.7l2.5 2.5l-2.5 2.5l-2.5 -2.5zM-32.5 -12.0l2.5 2.5l-2.5 2.5l-2.5 -2.5zM-29.5 -9.0l2.5 2.5l-2.5 2.5l-2.5 -2.5zM-23.7 -8.7l2.5 2.5l-2.5 2.5l-2.5 -2.5zM-16.8 -8.7l2.5 2.5l-2.5 2.5l-2.5 -2.5zM-13.2 -9.3l2.5 2.5l-2.5 2.5l-2.5 -2.5zM-10.2 -8.1l2.5 2.5l-2.5 2.5l-2.5 -2.5zM-7.2 -6.9l2.5 2.5l-2.5 2.5l-2.5 -2.5zM0.0 -11.7l2.5 2.5l-2.5 2.5l-2.5 -2.5zM3.6 -10.5l2.5 2.5l-2.5 2.5l-2.5 -2.5zM7.3 -11.1l2.5 2.5l-2.5 2.5l-2.5 -2.5zM9.1 -9.3l2.5 2.5l-2.5 2.5l-2.5 -2.5zM0.6 -8.1l2.5 2.5l-2.5 2.5l-2.5 -2.5zM4.9 -7.5l2.5 2.5l-2.5 2.5l-2.5 -2.5zM16.3 -9.3l2.5 2.5l-2.5 2.5l-2.5 -2.5zM43.4 -10.5l2.5 2.5l-2.5 2.5l-2.5 -2.5zM38.6 -6.9l2.5 2.5l-2.5 2.5l-2.5 -2.5zM-14.4 -5.7l2.5 2.5l-2.5 2.5l-2.5 -2.5zM-38.5 -5.4l2.5 2.5l-2.5 2.5l-2.5 -2.5zM-11.4 -4.5l2.5 2.5l-2.5 2.5l-2.5 -2.5zM-7.8 -5.1l2.5 2.5l-2.5 2.5l-2.5 -2.5zM-3.6 -4.5l2.5 2.5l-2.5 2.5l-2.5 -2.5zM0.0 -5.1l2.5 2.5l-2.5 2.5l-2.5 -2.5zM9.1 -3.6l2.5 2.5l-2.5 2.5l-2.5 -2.5zM21.4 -2.4l2.5 2.5l-2.5 2.5l-2.5 -2.5zM27.7 -1.8l2.5 2.5l-2.5 2.5l-2.5 -2.5zM-39.7 -1.2l2.5 2.5l-2.5 2.5l-2.5 -2.5zM-27.7 0.3l2.5 2.5l-2.5 2.5l-2.5 -2.5zM-22.2 -1.8l2.5 2.5l-2.5 2.5l-2.5 -2.5zM-18.6 -2.1l2.5 2.5l-2.5 2.5l-2.5 -2.5zM-3.6 0.6l2.5 2.5l-2.5 2.5l-2.5 -2.5zM42.2 -0.9l2.5 2.5l-2.5 2.5l-2.5 -2.5zM-33.7 4.2l2.5 2.5l-2.5 2.5l-2.5 -2.5zM-24.0 1.5l2.5 2.5l-2.5 2.5l-2.5 -2.5zM-29.5 6.9l2.5 2.5l-2.5 2.5l-2.5 -2.5zM-27.1 5.7l2.5 2.5l-2.5 2.5l-2.5 -2.5zM-21.6 7.5l2.5 2.5l-2.5 2.5l-2.5 -2.5zM-16.2 7.2l2.5 2.5l-2.5 2.5l-2.5 -2.5zM-12.6 4.8l2.5 2.5l-2.5 2.5l-2.5 -2.5zM-7.8 2.7l2.5 2.5l-2.5 2.5l-2.5 -2.5zM-5.4 7.5l2.5 2.5l-2.5 2.5l-2.5 -2.5zM-1.8 5.7l2.5 2.5l-2.5 2.5l-2.5 -2.5zM4.9 3.3l2.5 2.5l-2.5 2.5l-2.5 -2.5zM8.2 7.5l2.5 2.5l-2.5 2.5l-2.5 -2.5zM14.2 5.1l2.5 2.5l-2.5 2.5l-2.5 -2.5zM24.1 6.6l2.5 2.5l-2.5 2.5l-2.5 -2.5zM31.3 4.5l2.5 2.5l-2.5 2.5l-2.5 -2.5zM34.7 7.5l2.5 2.5l-2.5 2.5l-2.5 -2.5zM-39.7 3.9l2.5 2.5l-2.5 2.5l-2.5 -2.5zM-40.3 10.5l2.5 2.5l-2.5 2.5l-2.5 -2.5zM-35.5 9.9l2.5 2.5l-2.5 2.5l-2.5 -2.5zM-40.9 13.5l2.5 2.5l-2.5 2.5l-2.5 -2.5zM-24.0 11.7l2.5 2.5l-2.5 2.5l-2.5 -2.5zM-24.6 14.7l2.5 2.5l-2.5 2.5l-2.5 -2.5zM-17.4 9.3l2.5 2.5l-2.5 2.5l-2.5 -2.5zM-15.0 11.7l2.5 2.5l-2.5 2.5l-2.5 -2.5zM-11.4 10.5l2.5 2.5l-2.5 2.5l-2.5 -2.5zM-9.0 12.9l2.5 2.5l-2.5 2.5l-2.5 -2.5zM-5.4 11.7l2.5 2.5l-2.5 2.5l-2.5 -2.5zM-1.8 12.9l2.5 2.5l-2.5 2.5l-2.5 -2.5zM1.8 10.5l2.5 2.5l-2.5 2.5l-2.5 -2.5zM3.0 13.5l2.5 2.5l-2.5 2.5l-2.5 -2.5zM18.1 9.6l2.5 2.5l-2.5 2.5l-2.5 -2.5zM15.1 12.6l2.5 2.5l-2.5 2.5l-2.5 -2.5zM25.0 12.6l2.5 2.5l-2.5 2.5l-2.5 -2.5zM38.0 12.9l2.5 2.5l-2.5 2.5l-2.5 -2.5zM10.3 14.1l2.5 2.5l-2.5 2.5l-2.5 -2.5zM-37.0 16.2l2.5 2.5l-2.5 2.5l-2.5 -2.5zM-22.8 17.5l2.5 2.5l-2.5 2.5l-2.5 -2.5zM-18.6 15.3l2.5 2.5l-2.5 2.5l-2.5 -2.5zM-17.4 19.0l2.5 2.5l-2.5 2.5l-2.5 -2.5zM-13.2 14.4l2.5 2.5l-2.5 2.5l-2.5 -2.5zM-12.6 17.8l2.5 2.5l-2.5 2.5l-2.5 -2.5zM-9.0 16.5l2.5 2.5l-2.5 2.5l-2.5 -2.5zM-5.4 15.9l2.5 2.5l-2.5 2.5l-2.5 -2.5zM-1.8 16.5l2.5 2.5l-2.5 2.5l-2.5 -2.5zM1.8 17.8l2.5 2.5l-2.5 2.5l-2.5 -2.5zM5.5 17.2l2.5 2.5l-2.5 2.5l-2.5 -2.5zM8.5 16.5l2.5 2.5l-2.5 2.5l-2.5 -2.5zM17.2 16.2l2.5 2.5l-2.5 2.5l-2.5 -2.5zM22.3 19.9l2.5 2.5l-2.5 2.5l-2.5 -2.5zM-40.9 19.6l2.5 2.5l-2.5 2.5l-2.5 -2.5zM-41.5 22.0l2.5 2.5l-2.5 2.5l-2.5 -2.5zM-33.1 21.1l2.5 2.5l-2.5 2.5l-2.5 -2.5zM-26.5 21.7l2.5 2.5l-2.5 2.5l-2.5 -2.5zM-24.9 24.1l2.5 2.5l-2.5 2.5l-2.5 -2.5zM-17.4 22.3l2.5 2.5l-2.5 2.5l-2.5 -2.5zM-12.6 22.0l2.5 2.5l-2.5 2.5l-2.5 -2.5zM-4.2 23.8l2.5 2.5l-2.5 2.5l-2.5 -2.5zM3.0 21.4l2.5 2.5l-2.5 2.5l-2.5 -2.5zM4.3 24.4l2.5 2.5l-2.5 2.5l-2.5 -2.5zM1.8 25.6l2.5 2.5l-2.5 2.5l-2.5 -2.5zM-2.4 27.1l2.5 2.5l-2.5 2.5l-2.5 -2.5zM-36.1 28.0l2.5 2.5l-2.5 2.5l-2.5 -2.5zM-22.8 30.1l2.5 2.5l-2.5 2.5l-2.5 -2.5zM-24.9 32.2l2.5 2.5l-2.5 2.5l-2.5 -2.5zM-17.1 32.8l2.5 2.5l-2.5 2.5l-2.5 -2.5zM0.6 28.0l2.5 2.5l-2.5 2.5l-2.5 -2.5zM4.9 28.0l2.5 2.5l-2.5 2.5l-2.5 -2.5zM-1.8 32.2l2.5 2.5l-2.5 2.5l-2.5 -2.5zM3.0 31.6l2.5 2.5l-2.5 2.5l-2.5 -2.5zM7.9 31.6l2.5 2.5l-2.5 2.5l-2.5 -2.5zM27.7 33.4l2.5 2.5l-2.5 2.5l-2.5 -2.5zM33.7 32.5l2.5 2.5l-2.5 2.5l-2.5 -2.5zM40.7 34.3l2.5 2.5l-2.5 2.5l-2.5 -2.5zM-25.2 34.9l2.5 2.5l-2.5 2.5l-2.5 -2.5zM-26.8 37.6l2.5 2.5l-2.5 2.5l-2.5 -2.5zM0.6 35.8l2.5 2.5l-2.5 2.5l-2.5 -2.5zM1.8 38.2l2.5 2.5l-2.5 2.5l-2.5 -2.5zM5.5 35.2l2.5 2.5l-2.5 2.5l-2.5 -2.5zM6.7 37.6l2.5 2.5l-2.5 2.5l-2.5 -2.5zM4.3 40.0l2.5 2.5l-2.5 2.5l-2.5 -2.5zM-39.1 38.8l2.5 2.5l-2.5 2.5l-2.5 -2.5zM-38.8 40.9l2.5 2.5l-2.5 2.5l-2.5 -2.5zM23.2 37.9l2.5 2.5l-2.5 2.5l-2.5 -2.5zM-16.2 39.1l2.5 2.5l-2.5 2.5l-2.5 -2.5zM11.8 40.3l2.5 2.5l-2.5 2.5l-2.5 -2.5zM21.4 43.0l2.5 2.5l-2.5 2.5l-2.5 -2.5zM-7.8 43.0l2.5 2.5l-2.5 2.5l-2.5 -2.5zM-4.2 43.0l2.5 2.5l-2.5 2.5l-2.5 -2.5zM-13.8 44.5l2.5 2.5l-2.5 2.5l-2.5 -2.5zM3.6 44.8l2.5 2.5l-2.5 2.5l-2.5 -2.5zM-23.4 45.7l2.5 2.5l-2.5 2.5l-2.5 -2.5zM31.6 43.9l2.5 2.5l-2.5 2.5l-2.5 -2.5zM-1.8 46.0l2.5 2.5l-2.5 2.5l-2.5 -2.5zM11.5 44.8l2.5 2.5l-2.5 2.5l-2.5 -2.5zM-37.0 48.5l2.5 2.5l-2.5 2.5l-2.5 -2.5zM-19.2 48.5l2.5 2.5l-2.5 2.5l-2.5 -2.5zM-30.1 50.6l2.5 2.5l-2.5 2.5l-2.5 -2.5zM-25.2 50.3l2.5 2.5l-2.5 2.5l-2.5 -2.5zM-21.6 51.5l2.5 2.5l-2.5 2.5l-2.5 -2.5zM-10.2 50.3l2.5 2.5l-2.5 2.5l-2.5 -2.5zM-7.8 49.1l2.5 2.5l-2.5 2.5l-2.5 -2.5zM-3.6 49.1l2.5 2.5l-2.5 2.5l-2.5 -2.5zM0.0 49.7l2.5 2.5l-2.5 2.5l-2.5 -2.5zM-0.6 52.7l2.5 2.5l-2.5 2.5l-2.5 -2.5zM9.7 47.3l2.5 2.5l-2.5 2.5l-2.5 -2.5zM12.7 46.0l2.5 2.5l-2.5 2.5l-2.5 -2.5zM16.9 46.0l2.5 2.5l-2.5 2.5l-2.5 -2.5zM15.1 49.1l2.5 2.5l-2.5 2.5l-2.5 -2.5zM8.5 51.5l2.5 2.5l-2.5 2.5l-2.5 -2.5zM16.3 50.9l2.5 2.5l-2.5 2.5l-2.5 -2.5zM22.0 49.7l2.5 2.5l-2.5 2.5l-2.5 -2.5zM29.5 47.9l2.5 2.5l-2.5 2.5l-2.5 -2.5zM35.6 48.2l2.5 2.5l-2.5 2.5l-2.5 -2.5zM-11.4 52.7l2.5 2.5l-2.5 2.5l-2.5 -2.5zM-9.0 55.1l2.5 2.5l-2.5 2.5l-2.5 -2.5zM-5.4 56.3l2.5 2.5l-2.5 2.5l-2.5 -2.5zM3.0 53.9l2.5 2.5l-2.5 2.5l-2.5 -2.5zM4.3 56.3l2.5 2.5l-2.5 2.5l-2.5 -2.5zM37.7 55.4l2.5 2.5l-2.5 2.5l-2.5 -2.5zM-22.2 56.6l2.5 2.5l-2.5 2.5l-2.5 -2.5zM-40.3 58.4l2.5 2.5l-2.5 2.5l-2.5 -2.5zM-34.6 59.0l2.5 2.5l-2.5 2.5l-2.5 -2.5zM-28.0 58.1l2.5 2.5l-2.5 2.5l-2.5 -2.5zM-17.1 57.2l2.5 2.5l-2.5 2.5l-2.5 -2.5zM-13.2 58.1l2.5 2.5l-2.5 2.5l-2.5 -2.5zM3.0 58.7l2.5 2.5l-2.5 2.5l-2.5 -2.5zM6.7 59.3l2.5 2.5l-2.5 2.5l-2.5 -2.5zM12.7 58.1l2.5 2.5l-2.5 2.5l-2.5 -2.5zM19.6 59.3l2.5 2.5l-2.5 2.5l-2.5 -2.5zM31.3 60.8l2.5 2.5l-2.5 2.5l-2.5 -2.5zM-39.7 61.7l2.5 2.5l-2.5 2.5l-2.5 -2.5zM-30.1 62.3l2.5 2.5l-2.5 2.5l-2.5 -2.5zM-9.0 61.7l2.5 2.5l-2.5 2.5l-2.5 -2.5zM-4.2 62.3l2.5 2.5l-2.5 2.5l-2.5 -2.5zM0.6 61.7l2.5 2.5l-2.5 2.5l-2.5 -2.5zM7.9 62.3l2.5 2.5l-2.5 2.5l-2.5 -2.5zM11.5 62.3l2.5 2.5l-2.5 2.5l-2.5 -2.5zM-40.3 64.7l2.5 2.5l-2.5 2.5l-2.5 -2.5zM-10.8 64.1l2.5 2.5l-2.5 2.5l-2.5 -2.5zM0.6 64.4l2.5 2.5l-2.5 2.5l-2.5 -2.5zM4.3 65.9l2.5 2.5l-2.5 2.5l-2.5 -2.5zM7.3 67.1l2.5 2.5l-2.5 2.5l-2.5 -2.5zM10.9 65.3l2.5 2.5l-2.5 2.5l-2.5 -2.5zM13.9 64.4l2.5 2.5l-2.5 2.5l-2.5 -2.5zM-41.5 73.7l2.5 2.5l-2.5 2.5l-2.5 -2.5zM-40.3 77.6l2.5 2.5l-2.5 2.5l-2.5 -2.5zM-28.9 66.8l2.5 2.5l-2.5 2.5l-2.5 -2.5zM-26.5 69.5l2.5 2.5l-2.5 2.5l-2.5 -2.5zM-23.4 69.8l2.5 2.5l-2.5 2.5l-2.5 -2.5zM-18.9 67.4l2.5 2.5l-2.5 2.5l-2.5 -2.5zM-19.5 70.7l2.5 2.5l-2.5 2.5l-2.5 -2.5zM-14.7 70.7l2.5 2.5l-2.5 2.5l-2.5 -2.5zM-14.4 76.1l2.5 2.5l-2.5 2.5l-2.5 -2.5zM-15.6 80.4l2.5 2.5l-2.5 2.5l-2.5 -2.5zM-2.7 73.1l2.5 2.5l-2.5 2.5l-2.5 -2.5zM4.6 77.3l2.5 2.5l-2.5 2.5l-2.5 -2.5zM-6.9 80.1l2.5 2.5l-2.5 2.5l-2.5 -2.5zM-6.9 82.8l2.5 2.5l-2.5 2.5l-2.5 -2.5zM28.3 69.5l2.5 2.5l-2.5 2.5l-2.5 -2.5zM15.4 71.6l2.5 2.5l-2.5 2.5l-2.5 -2.5zM10.3 74.3l2.5 2.5l-2.5 2.5l-2.5 -2.5zM13.9 75.8l2.5 2.5l-2.5 2.5l-2.5 -2.5zM17.2 77.3l2.5 2.5l-2.5 2.5l-2.5 -2.5zM21.7 76.4l2.5 2.5l-2.5 2.5l-2.5 -2.5zM13.6 81.0l2.5 2.5l-2.5 2.5l-2.5 -2.5zM-28.3 86.4l2.5 2.5l-2.5 2.5l-2.5 -2.5zM-25.5 86.7l2.5 2.5l-2.5 2.5l-2.5 -2.5zM-30.4 93.0l2.5 2.5l-2.5 2.5l-2.5 -2.5zM-13.2 88.8l2.5 2.5l-2.5 2.5l-2.5 -2.5zM-11.4 87.3l2.5 2.5l-2.5 2.5l-2.5 -2.5zM-9.0 91.8l2.5 2.5l-2.5 2.5l-2.5 -2.5zM-6.6 96.0l2.5 2.5l-2.5 2.5l-2.5 -2.5zM-3.0 96.0l2.5 2.5l-2.5 2.5l-2.5 -2.5zM1.2 89.4l2.5 2.5l-2.5 2.5l-2.5 -2.5zM21.7 88.2l2.5 2.5l-2.5 2.5l-2.5 -2.5zM17.8 92.4l2.5 2.5l-2.5 2.5l-2.5 -2.5zM18.7 95.1l2.5 2.5l-2.5 2.5l-2.5 -2.5zM-15.0 99.0l2.5 2.5l-2.5 2.5l-2.5 -2.5zM0.6 99.6l2.5 2.5l-2.5 2.5l-2.5 -2.5zM0.6 102.0l2.5 2.5l-2.5 2.5l-2.5 -2.5zM9.7 97.2l2.5 2.5l-2.5 2.5l-2.5 -2.5zM7.3 99.6l2.5 2.5l-2.5 2.5l-2.5 -2.5zM7.9 102.6l2.5 2.5l-2.5 2.5l-2.5 -2.5zM13.0 100.2l2.5 2.5l-2.5 2.5l-2.5 -2.5zM21.1 100.8l2.5 2.5l-2.5 2.5l-2.5 -2.5zM28.6 98.4l2.5 2.5l-2.5 2.5l-2.5 -2.5zM37.4 96.3l2.5 2.5l-2.5 2.5l-2.5 -2.5zM39.5 95.1l2.5 2.5l-2.5 2.5l-2.5 -2.5zM41.3 103.2l2.5 2.5l-2.5 2.5l-2.5 -2.5zM42.8 105.0l2.5 2.5l-2.5 2.5l-2.5 -2.5zM43.4 83.4l2.5 2.5l-2.5 2.5l-2.5 -2.5zM-34.3 103.5l2.5 2.5l-2.5 2.5l-2.5 -2.5zM-19.5 103.2l2.5 2.5l-2.5 2.5l-2.5 -2.5zM-17.1 104.7l2.5 2.5l-2.5 2.5l-2.5 -2.5zM-11.4 104.7l2.5 2.5l-2.5 2.5l-2.5 -2.5zM-29.2 107.7l2.5 2.5l-2.5 2.5l-2.5 -2.5zM18.1 105.0l2.5 2.5l-2.5 2.5l-2.5 -2.5zM-19.5 112.3l2.5 2.5l-2.5 2.5l-2.5 -2.5zM-0.3 112.9l2.5 2.5l-2.5 2.5l-2.5 -2.5zM5.2 111.7l2.5 2.5l-2.5 2.5l-2.5 -2.5zM9.1 108.6l2.5 2.5l-2.5 2.5l-2.5 -2.5zM9.4 111.1l2.5 2.5l-2.5 2.5l-2.5 -2.5zM9.1 113.8l2.5 2.5l-2.5 2.5l-2.5 -2.5zM16.0 115.3l2.5 2.5l-2.5 2.5l-2.5 -2.5zM35.6 112.9l2.5 2.5l-2.5 2.5l-2.5 -2.5zM36.8 114.7l2.5 2.5l-2.5 2.5l-2.5 -2.5zM32.5 116.2l2.5 2.5l-2.5 2.5l-2.5 -2.5zM35.0 116.5l2.5 2.5l-2.5 2.5l-2.5 -2.5zM-41.5 120.1l2.5 2.5l-2.5 2.5l-2.5 -2.5zM-36.1 123.7l2.5 2.5l-2.5 2.5l-2.5 -2.5zM18.1 124.9l2.5 2.5l-2.5 2.5l-2.5 -2.5zM-135.6 -52.9l2.5 2.5l-2.5 2.5l-2.5 -2.5zM-102.8 -47.3l2.5 2.5l-2.5 2.5l-2.5 -2.5zM-116.9 -32.2l2.5 2.5l-2.5 2.5l-2.5 -2.5zM-104.7 -26.3l2.5 2.5l-2.5 2.5l-2.5 -2.5zM-146.5 13.2l2.5 2.5l-2.5 2.5l-2.5 -2.5zM-113.8 29.1l2.5 2.5l-2.5 2.5l-2.5 -2.5zM-112.9 56.6l2.5 2.5l-2.5 2.5l-2.5 -2.5zM-93.2 11.4l2.5 2.5l-2.5 2.5l-2.5 -2.5zM-97.0 -1.4l2.5 2.5l-2.5 2.5l-2.5 -2.5zM-92.6 38.5l2.5 2.5l-2.5 2.5l-2.5 -2.5zM-95.1 49.7l2.5 2.5l-2.5 2.5l-2.5 -2.5zM-98.2 52.8l2.5 2.5l-2.5 2.5l-2.5 -2.5zM-81.4 -44.0l2.5 2.5l-2.5 2.5l-2.5 -2.5zM-74.8 -46.9l2.5 2.5l-2.5 2.5l-2.5 -2.5zM-68.1 -49.4l2.5 2.5l-2.5 2.5l-2.5 -2.5zM-66.4 -51.9l2.5 2.5l-2.5 2.5l-2.5 -2.5zM-53.3 -55.6l2.5 2.5l-2.5 2.5l-2.5 -2.5zM-54.0 -46.9l2.5 2.5l-2.5 2.5l-2.5 -2.5zM-44.6 -44.7l2.5 2.5l-2.5 2.5l-2.5 -2.5zM-55.2 -43.2l2.5 2.5l-2.5 2.5l-2.5 -2.5zM-60.2 -41.3l2.5 2.5l-2.5 2.5l-2.5 -2.5zM-58.3 -38.8l2.5 2.5l-2.5 2.5l-2.5 -2.5zM-64.6 -35.7l2.5 2.5l-2.5 2.5l-2.5 -2.5zM-66.7 -32.6l2.5 2.5l-2.5 2.5l-2.5 -2.5zM-56.5 -34.4l2.5 2.5l-2.5 2.5l-2.5 -2.5zM-54.8 -31.3l2.5 2.5l-2.5 2.5l-2.5 -2.5zM-49.6 -32.6l2.5 2.5l-2.5 2.5l-2.5 -2.5zM-81.4 -30.7l2.5 2.5l-2.5 2.5l-2.5 -2.5zM-83.0 -27.6l2.5 2.5l-2.5 2.5l-2.5 -2.5zM-79.3 -22.0l2.5 2.5l-2.5 2.5l-2.5 -2.5zM-69.6 -23.8l2.5 2.5l-2.5 2.5l-2.5 -2.5zM-68.9 -20.7l2.5 2.5l-2.5 2.5l-2.5 -2.5zM-77.0 -17.9l2.5 2.5l-2.5 2.5l-2.5 -2.5zM-88.9 -19.5l2.5 2.5l-2.5 2.5l-2.5 -2.5zM-92.2 -17.6l2.5 2.5l-2.5 2.5l-2.5 -2.5zM-84.5 -14.5l2.5 2.5l-2.5 2.5l-2.5 -2.5zM-80.5 -12.6l2.5 2.5l-2.5 2.5l-2.5 -2.5zM-54.0 -17.6l2.5 2.5l-2.5 2.5l-2.5 -2.5zM-51.1 -15.4l2.5 2.5l-2.5 2.5l-2.5 -2.5zM-81.8 -5.8l2.5 2.5l-2.5 2.5l-2.5 -2.5zM-75.4 -7.0l2.5 2.5l-2.5 2.5l-2.5 -2.5zM-69.3 -7.0l2.5 2.5l-2.5 2.5l-2.5 -2.5zM-59.6 -8.9l2.5 2.5l-2.5 2.5l-2.5 -2.5zM-61.4 -6.4l2.5 2.5l-2.5 2.5l-2.5 -2.5zM-55.6 -4.2l2.5 2.5l-2.5 2.5l-2.5 -2.5zM-47.7 -7.6l2.5 2.5l-2.5 2.5l-2.5 -2.5zM-47.7 -3.3l2.5 2.5l-2.5 2.5l-2.5 -2.5zM-66.4 6.4l2.5 2.5l-2.5 2.5l-2.5 -2.5zM-67.7 14.8l2.5 2.5l-2.5 2.5l-2.5 -2.5zM-64.6 20.4l2.5 2.5l-2.5 2.5l-2.5 -2.5zM-79.8 30.1l2.5 2.5l-2.5 2.5l-2.5 -2.5zM-66.8 29.4l2.5 2.5l-2.5 2.5l-2.5 -2.5zM-50.9 6.1l2.5 2.5l-2.5 2.5l-2.5 -2.5zM-50.9 10.4l2.5 2.5l-2.5 2.5l-2.5 -2.5zM-47.1 11.1l2.5 2.5l-2.5 2.5l-2.5 -2.5zM-42.8 4.2l2.5 2.5l-2.5 2.5l-2.5 -2.5zM-43.1 9.8l2.5 2.5l-2.5 2.5l-2.5 -2.5zM-49.6 18.5l2.5 2.5l-2.5 2.5l-2.5 -2.5zM-44.6 21.0l2.5 2.5l-2.5 2.5l-2.5 -2.5zM-55.2 34.7l2.5 2.5l-2.5 2.5l-2.5 -2.5zM-44.9 34.4l2.5 2.5l-2.5 2.5l-2.5 -2.5zM-49.0 38.5l2.5 2.5l-2.5 2.5l-2.5 -2.5zM-50.9 41.0l2.5 2.5l-2.5 2.5l-2.5 -2.5zM-60.2 42.6l2.5 2.5l-2.5 2.5l-2.5 -2.5zM-55.8 44.7l2.5 2.5l-2.5 2.5l-2.5 -2.5zM-53.3 46.6l2.5 2.5l-2.5 2.5l-2.5 -2.5zM-45.9 45.3l2.5 2.5l-2.5 2.5l-2.5 -2.5zM-44.0 48.4l2.5 2.5l-2.5 2.5l-2.5 -2.5zM-63.9 63.2l2.5 2.5l-2.5 2.5l-2.5 -2.5zM-59.0 63.4l2.5 2.5l-2.5 2.5l-2.5 -2.5zM46.0 -50.0l2.5 2.5l-2.5 2.5l-2.5 -2.5zM53.5 -45.4l2.5 2.5l-2.5 2.5l-2.5 -2.5zM63.1 -45.3l2.5 2.5l-2.5 2.5l-2.5 -2.5zM53.5 -36.9l2.5 2.5l-2.5 2.5l-2.5 -2.5zM57.6 -34.2l2.5 2.5l-2.5 2.5l-2.5 -2.5zM97.7 -28.8l2.5 2.5l-2.5 2.5l-2.5 -2.5zM52.2 -20.7l2.5 2.5l-2.5 2.5l-2.5 -2.5zM96.5 -14.1l2.5 2.5l-2.5 2.5l-2.5 -2.5zM90.5 -10.8l2.5 2.5l-2.5 2.5l-2.5 -2.5zM84.3 -8.9l2.5 2.5l-2.5 2.5l-2.5 -2.5zM116.2 -11.4l2.5 2.5l-2.5 2.5l-2.5 -2.5zM49.1 -9.5l2.5 2.5l-2.5 2.5l-2.5 -2.5zM68.8 -7.0l2.5 2.5l-2.5 2.5l-2.5 -2.5zM78.4 -2.7l2.5 2.5l-2.5 2.5l-2.5 -2.5zM54.7 -0.2l2.5 2.5l-2.5 2.5l-2.5 -2.5zM56.0 6.7l2.5 2.5l-2.5 2.5l-2.5 -2.5zM91.7 6.1l2.5 2.5l-2.5 2.5l-2.5 -2.5zM51.0 13.5l2.5 2.5l-2.5 2.5l-2.5 -2.5zM65.7 17.7l2.5 2.5l-2.5 2.5l-2.5 -2.5zM51.6 21.0l2.5 2.5l-2.5 2.5l-2.5 -2.5zM65.6 24.8l2.5 2.5l-2.5 2.5l-2.5 -2.5zM82.1 26.0l2.5 2.5l-2.5 2.5l-2.5 -2.5zM53.5 27.0l2.5 2.5l-2.5 2.5l-2.5 -2.5zM111.4 29.1l2.5 2.5l-2.5 2.5l-2.5 -2.5zM48.9 30.4l2.5 2.5l-2.5 2.5l-2.5 -2.5zM61.2 32.2l2.5 2.5l-2.5 2.5l-2.5 -2.5zM47.6 38.2l2.5 2.5l-2.5 2.5l-2.5 -2.5zM51.0 38.2l2.5 2.5l-2.5 2.5l-2.5 -2.5zM80.0 43.7l2.5 2.5l-2.5 2.5l-2.5 -2.5zM98.1 46.6l2.5 2.5l-2.5 2.5l-2.5 -2.5zM52.2 46.0l2.5 2.5l-2.5 2.5l-2.5 -2.5zM46.6 49.1l2.5 2.5l-2.5 2.5l-2.5 -2.5zM64.1 50.7l2.5 2.5l-2.5 2.5l-2.5 -2.5zM52.9 52.2l2.5 2.5l-2.5 2.5l-2.5 -2.5zM84.4 60.0l2.5 2.5l-2.5 2.5l-2.5 -2.5zM98.6 59.3l2.5 2.5l-2.5 2.5l-2.5 -2.5zM46.0 60.9l2.5 2.5l-2.5 2.5l-2.5 -2.5zM56.0 69.6l2.5 2.5l-2.5 2.5l-2.5 -2.5zM77.2 70.9l2.5 2.5l-2.5 2.5l-2.5 -2.5zM-120.9 76.5l2.5 2.5l-2.5 2.5l-2.5 -2.5zM-110.4 88.6l2.5 2.5l-2.5 2.5l-2.5 -2.5zM-136.2 105.2l2.5 2.5l-2.5 2.5l-2.5 -2.5zM-120.3 109.5l2.5 2.5l-2.5 2.5l-2.5 -2.5zM-87.0 82.5l2.5 2.5l-2.5 2.5l-2.5 -2.5zM-83.3 85.5l2.5 2.5l-2.5 2.5l-2.5 -2.5zM-70.2 79.2l2.5 2.5l-2.5 2.5l-2.5 -2.5zM-67.3 73.4l2.5 2.5l-2.5 2.5l-2.5 -2.5zM-63.9 79.6l2.5 2.5l-2.5 2.5l-2.5 -2.5zM-60.6 74.2l2.5 2.5l-2.5 2.5l-2.5 -2.5zM-64.2 86.8l2.5 2.5l-2.5 2.5l-2.5 -2.5zM-78.5 94.6l2.5 2.5l-2.5 2.5l-2.5 -2.5zM-84.3 99.9l2.5 2.5l-2.5 2.5l-2.5 -2.5zM-74.9 106.0l2.5 2.5l-2.5 2.5l-2.5 -2.5zM-69.6 111.6l2.5 2.5l-2.5 2.5l-2.5 -2.5zM-84.1 121.4l2.5 2.5l-2.5 2.5l-2.5 -2.5zM-77.0 119.5l2.5 2.5l-2.5 2.5l-2.5 -2.5zM-78.3 122.0l2.5 2.5l-2.5 2.5l-2.5 -2.5zM-73.5 125.3l2.5 2.5l-2.5 2.5l-2.5 -2.5zM-89.9 125.7l2.5 2.5l-2.5 2.5l-2.5 -2.5zM-60.0 123.0l2.5 2.5l-2.5 2.5l-2.5 -2.5zM-44.6 131.6l2.5 2.5l-2.5 2.5l-2.5 -2.5zM-93.9 137.2l2.5 2.5l-2.5 2.5l-2.5 -2.5zM-82.9 136.6l2.5 2.5l-2.5 2.5l-2.5 -2.5zM-55.8 145.9l2.5 2.5l-2.5 2.5l-2.5 -2.5zM-54.0 150.7l2.5 2.5l-2.5 2.5l-2.5 -2.5zM-32.2 129.1l2.5 2.5l-2.5 2.5l-2.5 -2.5zM-20.9 132.8l2.5 2.5l-2.5 2.5l-2.5 -2.5zM-8.7 128.6l2.5 2.5l-2.5 2.5l-2.5 -2.5zM-13.5 137.3l2.5 2.5l-2.5 2.5l-2.5 -2.5zM-23.7 140.3l2.5 2.5l-2.5 2.5l-2.5 -2.5zM-37.8 149.4l2.5 2.5l-2.5 2.5l-2.5 -2.5zM-26.5 147.3l2.5 2.5l-2.5 2.5l-2.5 -2.5zM-22.2 149.4l2.5 2.5l-2.5 2.5l-2.5 -2.5zM-32.8 156.0l2.5 2.5l-2.5 2.5l-2.5 -2.5zM-1.6 154.8l2.5 2.5l-2.5 2.5l-2.5 -2.5zM-20.7 163.4l2.5 2.5l-2.5 2.5l-2.5 -2.5zM-15.6 164.7l2.5 2.5l-2.5 2.5l-2.5 -2.5zM-4.5 165.2l2.5 2.5l-2.5 2.5l-2.5 -2.5zM-15.0 179.3l2.5 2.5l-2.5 2.5l-2.5 -2.5zM-0.4 179.3l2.5 2.5l-2.5 2.5l-2.5 -2.5zM-36.8 191.8l2.5 2.5l-2.5 2.5l-2.5 -2.5zM-12.8 198.4l2.5 2.5l-2.5 2.5l-2.5 -2.5zM-97.2 176.0l2.5 2.5l-2.5 2.5l-2.5 -2.5zM-85.5 175.6l2.5 2.5l-2.5 2.5l-2.5 -2.5zM54.1 72.1l2.5 2.5l-2.5 2.5l-2.5 -2.5zM94.2 75.5l2.5 2.5l-2.5 2.5l-2.5 -2.5zM45.4 79.6l2.5 2.5l-2.5 2.5l-2.5 -2.5zM60.3 83.7l2.5 2.5l-2.5 2.5l-2.5 -2.5zM67.8 84.8l2.5 2.5l-2.5 2.5l-2.5 -2.5zM110.2 87.7l2.5 2.5l-2.5 2.5l-2.5 -2.5zM46.6 95.2l2.5 2.5l-2.5 2.5l-2.5 -2.5zM85.3 101.0l2.5 2.5l-2.5 2.5l-2.5 -2.5zM107.4 103.9l2.5 2.5l-2.5 2.5l-2.5 -2.5zM137.2 101.8l2.5 2.5l-2.5 2.5l-2.5 -2.5zM81.9 118.6l2.5 2.5l-2.5 2.5l-2.5 -2.5zM83.8 123.6l2.5 2.5l-2.5 2.5l-2.5 -2.5zM62.2 128.5l2.5 2.5l-2.5 2.5l-2.5 -2.5zM68.7 128.8l2.5 2.5l-2.5 2.5l-2.5 -2.5zM51.0 132.0l2.5 2.5l-2.5 2.5l-2.5 -2.5zM44.7 128.8l2.5 2.5l-2.5 2.5l-2.5 -2.5zM89.6 132.8l2.5 2.5l-2.5 2.5l-2.5 -2.5zM127.6 127.8l2.5 2.5l-2.5 2.5l-2.5 -2.5zM62.0 142.3l2.5 2.5l-2.5 2.5l-2.5 -2.5zM102.7 153.4l2.5 2.5l-2.5 2.5l-2.5 -2.5zM46.9 156.9l2.5 2.5l-2.5 2.5l-2.5 -2.5zM53.5 162.5l2.5 2.5l-2.5 2.5l-2.5 -2.5zM55.3 164.0l2.5 2.5l-2.5 2.5l-2.5 -2.5zM94.9 171.0l2.5 2.5l-2.5 2.5l-2.5 -2.5zM81.5 183.3l2.5 2.5l-2.5 2.5l-2.5 -2.5zM72.5 186.8l2.5 2.5l-2.5 2.5l-2.5 -2.5zM77.8 190.5l2.5 2.5l-2.5 2.5l-2.5 -2.5zM48.9 189.7l2.5 2.5l-2.5 2.5l-2.5 -2.5zM44.4 180.2l2.5 2.5l-2.5 2.5l-2.5 -2.5zM42.6 172.2l2.5 2.5l-2.5 2.5l-2.5 -2.5zM42.3 199.9l2.5 2.5l-2.5 2.5l-2.5 -2.5zM16.1 130.1l2.5 2.5l-2.5 2.5l-2.5 -2.5zM19.2 131.3l2.5 2.5l-2.5 2.5l-2.5 -2.5zM15.5 132.6l2.5 2.5l-2.5 2.5l-2.5 -2.5zM24.6 135.7l2.5 2.5l-2.5 2.5l-2.5 -2.5zM35.2 132.2l2.5 2.5l-2.5 2.5l-2.5 -2.5zM43.5 129.5l2.5 2.5l-2.5 2.5l-2.5 -2.5zM37.6 139.2l2.5 2.5l-2.5 2.5l-2.5 -2.5zM10.5 147.5l2.5 2.5l-2.5 2.5l-2.5 -2.5zM2.4 151.3l2.5 2.5l-2.5 2.5l-2.5 -2.5zM3.0 154.8l2.5 2.5l-2.5 2.5l-2.5 -2.5zM14.2 155.3l2.5 2.5l-2.5 2.5l-2.5 -2.5zM24.2 154.8l2.5 2.5l-2.5 2.5l-2.5 -2.5zM33.3 160.0l2.5 2.5l-2.5 2.5l-2.5 -2.5zM26.9 168.3l2.5 2.5l-2.5 2.5l-2.5 -2.5zM6.5 180.3l2.5 2.5l-2.5 2.5l-2.5 -2.5zM7.4 185.8l2.5 2.5l-2.5 2.5l-2.5 -2.5zM-12.2 215.5l2.5 2.5l-2.5 2.5l-2.5 -2.5zM28.5 204.2l2.5 2.5l-2.5 2.5l-2.5 -2.5zM45.1 209.8l2.5 2.5l-2.5 2.5l-2.5 -2.5zM75.7 205.7l2.5 2.5l-2.5 2.5l-2.5 -2.5zM80.9 208.6l2.5 2.5l-2.5 2.5l-2.5 -2.5zM35.4 220.1l2.5 2.5l-2.5 2.5l-2.5 -2.5zM27.3 235.2l2.5 2.5l-2.5 2.5l-2.5 -2.5zM77.8 246.6l2.5 2.5l-2.5 2.5l-2.5 -2.5zM42.5 248.9l2.5 2.5l-2.5 2.5l-2.5 -2.5zM19.4 259.3l2.5 2.5l-2.5 2.5l-2.5 -2.5zM60.1 261.6l2.5 2.5l-2.5 2.5l-2.5 -2.5zM50.4 275.3l2.5 2.5l-2.5 2.5l-2.5 -2.5zM60.1 284.4l2.5 2.5l-2.5 2.5l-2.5 -2.5zM38.5 290.2l2.5 2.5l-2.5 2.5l-2.5 -2.5zM54.1 291.7l2.5 2.5l-2.5 2.5l-2.5 -2.5zM41.3 299.0l2.5 2.5l-2.5 2.5l-2.5 -2.5zM64.1 302.3l2.5 2.5l-2.5 2.5l-2.5 -2.5zM86.9 296.1l2.5 2.5l-2.5 2.5l-2.5 -2.5zM38.5 320.2l2.5 2.5l-2.5 2.5l-2.5 -2.5zM-13.7 -106.5l2.5 2.5l-2.5 2.5l-2.5 -2.5zM-11.0 -103.1l2.5 2.5l-2.5 2.5l-2.5 -2.5zM-14.0 -94.5l2.5 2.5l-2.5 2.5l-2.5 -2.5zM7.4 -111.1l2.5 2.5l-2.5 2.5l-2.5 -2.5zM3.7 -111.0l2.5 2.5l-2.5 2.5l-2.5 -2.5zM6.2 -95.0l2.5 2.5l-2.5 2.5l-2.5 -2.5zM-12.2 -88.0l2.5 2.5l-2.5 2.5l-2.5 -2.5zM-9.4 -88.3l2.5 2.5l-2.5 2.5l-2.5 -2.5zM14.2 -75.2l2.5 2.5l-2.5 2.5l-2.5 -2.5zM11.7 -72.8l2.5 2.5l-2.5 2.5l-2.5 -2.5zM15.4 -68.6l2.5 2.5l-2.5 2.5l-2.5 -2.5zM-9.9 -75.4l2.5 2.5l-2.5 2.5l-2.5 -2.5zM-9.3 -72.9l2.5 2.5l-2.5 2.5l-2.5 -2.5zM-10.7 -68.7l2.5 2.5l-2.5 2.5l-2.5 -2.5zM-6.2 -68.1l2.5 2.5l-2.5 2.5l-2.5 -2.5zM-7.4 -66.2l2.5 2.5l-2.5 2.5l-2.5 -2.5zM-4.7 -65.8l2.5 2.5l-2.5 2.5l-2.5 -2.5zM-11.3 -64.6l2.5 2.5l-2.5 2.5l-2.5 -2.5zM-12.7 -63.4l2.5 2.5l-2.5 2.5l-2.5 -2.5zM-23.9 -68.7l2.5 2.5l-2.5 2.5l-2.5 -2.5zM-19.9 -67.6l2.5 2.5l-2.5 2.5l-2.5 -2.5zM-17.2 -64.2l2.5 2.5l-2.5 2.5l-2.5 -2.5zM-20.5 -62.1l2.5 2.5l-2.5 2.5l-2.5 -2.5zM-16.1 -61.3l2.5 2.5l-2.5 2.5l-2.5 -2.5zM9.1 -62.3l2.5 2.5l-2.5 2.5l-2.5 -2.5zM-18.0 -59.1l2.5 2.5l-2.5 2.5l-2.5 -2.5zM-15.2 -59.2l2.5 2.5l-2.5 2.5l-2.5 -2.5zM-12.3 -59.3l2.5 2.5l-2.5 2.5l-2.5 -2.5zM12.7 -57.4l2.5 2.5l-2.5 2.5l-2.5 -2.5zM23.0 -57.6l2.5 2.5l-2.5 2.5l-2.5 -2.5zM26.9 -59.8l2.5 2.5l-2.5 2.5l-2.5 -2.5zM-26.3 -48.0l2.5 2.5l-2.5 2.5l-2.5 -2.5zM-23.2 -53.4l2.5 2.5l-2.5 2.5l-2.5 -2.5zM-20.7 -48.2l2.5 2.5l-2.5 2.5l-2.5 -2.5zM-18.7 -50.5l2.5 2.5l-2.5 2.5l-2.5 -2.5zM-16.7 -53.4l2.5 2.5l-2.5 2.5l-2.5 -2.5zM-13.4 -50.2l2.5 2.5l-2.5 2.5l-2.5 -2.5zM-9.4 -53.3l2.5 2.5l-2.5 2.5l-2.5 -2.5zM23.8 -53.5l2.5 2.5l-2.5 2.5l-2.5 -2.5zM24.1 -51.0l2.5 2.5l-2.5 2.5l-2.5 -2.5zM27.4 -53.7l2.5 2.5l-2.5 2.5l-2.5 -2.5zM22.4 -47.2l2.5 2.5l-2.5 2.5l-2.5 -2.5zM-20.2 -46.8l2.5 2.5l-2.5 2.5l-2.5 -2.5zM10.0 -45.1l2.5 2.5l-2.5 2.5l-2.5 -2.5zM26.6 -46.2l2.5 2.5l-2.5 2.5l-2.5 -2.5zM-2.3 -37.5l2.5 2.5l-2.5 2.5l-2.5 -2.5zM1.4 -36.1l2.5 2.5l-2.5 2.5l-2.5 -2.5zM3.7 -36.6l2.5 2.5l-2.5 2.5l-2.5 -2.5zM-13.0 -33.6l2.5 2.5l-2.5 2.5l-2.5 -2.5zM-4.2 -34.9l2.5 2.5l-2.5 2.5l-2.5 -2.5zM-2.6 -34.1l2.5 2.5l-2.5 2.5l-2.5 -2.5zM-0.1 -34.0l2.5 2.5l-2.5 2.5l-2.5 -2.5zM5.7 -34.0l2.5 2.5l-2.5 2.5l-2.5 -2.5zM-12.1 -30.6l2.5 2.5l-2.5 2.5l-2.5 -2.5zM-7.5 -29.6l2.5 2.5l-2.5 2.5l-2.5 -2.5zM-5.8 -29.2l2.5 2.5l-2.5 2.5l-2.5 -2.5zM-3.0 -30.1l2.5 2.5l-2.5 2.5l-2.5 -2.5zM4.8 -31.6l2.5 2.5l-2.5 2.5l-2.5 -2.5zM9.5 -30.3l2.5 2.5l-2.5 2.5l-2.5 -2.5zM11.9 -28.4l2.5 2.5l-2.5 2.5l-2.5 -2.5zM-5.7 -26.5l2.5 2.5l-2.5 2.5l-2.5 -2.5zM-1.0 -25.3l2.5 2.5l-2.5 2.5l-2.5 -2.5zM5.6 -27.9l2.5 2.5l-2.5 2.5l-2.5 -2.5zM10.1 -26.5l2.5 2.5l-2.5 2.5l-2.5 -2.5zM6.3 -25.0l2.5 2.5l-2.5 2.5l-2.5 -2.5zM-0.7 -21.7l2.5 2.5l-2.5 2.5l-2.5 -2.5zM3.3 -20.0l2.5 2.5l-2.5 2.5l-2.5 -2.5zM6.1 -17.4l2.5 2.5l-2.5 2.5l-2.5 -2.5zM-15.3 -16.3l2.5 2.5l-2.5 2.5l-2.5 -2.5zM-13.8 -13.3l2.5 2.5l-2.5 2.5l-2.5 -2.5zM-10.0 -12.7l2.5 2.5l-2.5 2.5l-2.5 -2.5zM5.2 -14.7l2.5 2.5l-2.5 2.5l-2.5 -2.5zM-13.3 -9.3l2.5 2.5l-2.5 2.5l-2.5 -2.5zM-11.3 -9.1l2.5 2.5l-2.5 2.5l-2.5 -2.5zM-7.6 -7.5l2.5 2.5l-2.5 2.5l-2.5 -2.5zM4.5 -11.4l2.5 2.5l-2.5 2.5l-2.5 -2.5zM-0.6 -6.9l2.5 2.5l-2.5 2.5l-2.5 -2.5zM5.0 -8.4l2.5 2.5l-2.5 2.5l-2.5 -2.5zM-14.3 -6.9l2.5 2.5l-2.5 2.5l-2.5 -2.5zM-11.3 -3.3l2.5 2.5l-2.5 2.5l-2.5 -2.5zM-6.9 -4.6l2.5 2.5l-2.5 2.5l-2.5 -2.5zM-4.2 -4.8l2.5 2.5l-2.5 2.5l-2.5 -2.5zM-17.1 7.9l2.5 2.5l-2.5 2.5l-2.5 -2.5zM-5.3 8.2l2.5 2.5l-2.5 2.5l-2.5 -2.5zM-17.8 8.6l2.5 2.5l-2.5 2.5l-2.5 -2.5zM-14.2 13.0l2.5 2.5l-2.5 2.5l-2.5 -2.5zM-8.1 13.7l2.5 2.5l-2.5 2.5l-2.5 -2.5zM-4.6 12.3l2.5 2.5l-2.5 2.5l-2.5 -2.5zM-2.5 12.9l2.5 2.5l-2.5 2.5l-2.5 -2.5zM2.6 12.3l2.5 2.5l-2.5 2.5l-2.5 -2.5zM-24.0 16.9l2.5 2.5l-2.5 2.5l-2.5 -2.5zM-19.2 15.8l2.5 2.5l-2.5 2.5l-2.5 -2.5zM-16.2 18.9l2.5 2.5l-2.5 2.5l-2.5 -2.5zM-12.1 15.7l2.5 2.5l-2.5 2.5l-2.5 -2.5zM-11.7 14.0l2.5 2.5l-2.5 2.5l-2.5 -2.5zM-13.3 17.1l2.5 2.5l-2.5 2.5l-2.5 -2.5zM-9.8 15.7l2.5 2.5l-2.5 2.5l-2.5 -2.5zM-5.1 16.9l2.5 2.5l-2.5 2.5l-2.5 -2.5zM-0.9 16.4l2.5 2.5l-2.5 2.5l-2.5 -2.5zM2.2 18.6l2.5 2.5l-2.5 2.5l-2.5 -2.5zM4.4 17.6l2.5 2.5l-2.5 2.5l-2.5 -2.5zM4.1 22.1l2.5 2.5l-2.5 2.5l-2.5 -2.5zM2.5 25.5l2.5 2.5l-2.5 2.5l-2.5 -2.5zM-3.2 27.9l2.5 2.5l-2.5 2.5l-2.5 -2.5zM0.2 28.8l2.5 2.5l-2.5 2.5l-2.5 -2.5zM6.1 27.7l2.5 2.5l-2.5 2.5l-2.5 -2.5zM2.7 32.8l2.5 2.5l-2.5 2.5l-2.5 -2.5zM1.2 34.9l2.5 2.5l-2.5 2.5l-2.5 -2.5zM4.5 34.3l2.5 2.5l-2.5 2.5l-2.5 -2.5zM5.4 40.8l2.5 2.5l-2.5 2.5l-2.5 -2.5zM10.6 45.6l2.5 2.5l-2.5 2.5l-2.5 -2.5zM1.2 50.1l2.5 2.5l-2.5 2.5l-2.5 -2.5zM-1.0 52.8l2.5 2.5l-2.5 2.5l-2.5 -2.5zM11.7 44.7l2.5 2.5l-2.5 2.5l-2.5 -2.5zM18.1 46.4l2.5 2.5l-2.5 2.5l-2.5 -2.5zM15.2 50.2l2.5 2.5l-2.5 2.5l-2.5 -2.5zM2.8 54.9l2.5 2.5l-2.5 2.5l-2.5 -2.5zM5.1 55.5l2.5 2.5l-2.5 2.5l-2.5 -2.5zM2.4 58.2l2.5 2.5l-2.5 2.5l-2.5 -2.5zM6.0 59.5l2.5 2.5l-2.5 2.5l-2.5 -2.5zM0.0 61.5l2.5 2.5l-2.5 2.5l-2.5 -2.5zM6.9 63.4l2.5 2.5l-2.5 2.5l-2.5 -2.5zM11.1 62.2l2.5 2.5l-2.5 2.5l-2.5 -2.5z"/>
<path fill="#e52d22" d="M-58.4 -360.8l2.5 2.5l-2.5 2.5l-2.5 -2.5zM-37.9 -361.4l2.5 2.5l-2.5 2.5l-2.5 -2.5zM-64.4 -358.2l2.5 2.5l-2.5 2.5l-2.5 -2.5zM-51.3 -357.6l2.5 2.5l-2.5 2.5l-2.5 -2.5zM-20.2 -357.6l2.5 2.5l-2.5 2.5l-2.5 -2.5zM-55.8 -353.9l2.5 2.5l-2.5 2.5l-2.5 -2.5zM-66.1 -352.2l2.5 2.5l-2.5 2.5l-2.5 -2.5zM-49.0 -349.1l2.5 2.5l-2.5 2.5l-2.5 -2.5zM-49.0 -345.4l2.5 2.5l-2.5 2.5l-2.5 -2.5zM-61.8 -345.7l2.5 2.5l-2.5 2.5l-2.5 -2.5zM-56.1 -344.8l2.5 2.5l-2.5 2.5l-2.5 -2.5zM-72.7 -346.0l2.5 2.5l-2.5 2.5l-2.5 -2.5zM-67.5 -346.8l2.5 2.5l-2.5 2.5l-2.5 -2.5zM-71.0 -343.7l2.5 2.5l-2.5 2.5l-2.5 -2.5zM-75.0 -339.7l2.5 2.5l-2.5 2.5l-2.5 -2.5zM-72.1 -340.2l2.5 2.5l-2.5 2.5l-2.5 -2.5zM-67.5 -343.1l2.5 2.5l-2.5 2.5l-2.5 -2.5zM-65.3 -339.7l2.5 2.5l-2.5 2.5l-2.5 -2.5zM-55.6 -341.4l2.5 2.5l-2.5 2.5l-2.5 -2.5zM-57.3 -338.0l2.5 2.5l-2.5 2.5l-2.5 -2.5zM-61.8 -336.3l2.5 2.5l-2.5 2.5l-2.5 -2.5zM-59.6 -334.5l2.5 2.5l-2.5 2.5l-2.5 -2.5zM-56.1 -334.5l2.5 2.5l-2.5 2.5l-2.5 -2.5zM-52.7 -334.5l2.5 2.5l-2.5 2.5l-2.5 -2.5zM-67.8 -334.3l2.5 2.5l-2.5 2.5l-2.5 -2.5zM-43.6 -340.2l2.5 2.5l-2.5 2.5l-2.5 -2.5zM-31.6 -340.5l2.5 2.5l-2.5 2.5l-2.5 -2.5zM-26.5 -342.2l2.5 2.5l-2.5 2.5l-2.5 -2.5zM-20.5 -339.1l2.5 2.5l-2.5 2.5l-2.5 -2.5zM-54.4 -331.7l2.5 2.5l-2.5 2.5l-2.5 -2.5zM-51.0 -330.0l2.5 2.5l-2.5 2.5l-2.5 -2.5zM-47.6 -330.8l2.5 2.5l-2.5 2.5l-2.5 -2.5zM-43.6 -332.8l2.5 2.5l-2.5 2.5l-2.5 -2.5zM-40.7 -331.1l2.5 2.5l-2.5 2.5l-2.5 -2.5zM-40.7 -327.4l2.5 2.5l-2.5 2.5l-2.5 -2.5zM-47.6 -326.0l2.5 2.5l-2.5 2.5l-2.5 -2.5zM-34.2 -328.0l2.5 2.5l-2.5 2.5l-2.5 -2.5zM-27.9 -331.4l2.5 2.5l-2.5 2.5l-2.5 -2.5zM-78.7 -331.1l2.5 2.5l-2.5 2.5l-2.5 -2.5zM-71.5 -330.5l2.5 2.5l-2.5 2.5l-2.5 -2.5zM-71.0 -328.3l2.5 2.5l-2.5 2.5l-2.5 -2.5zM-65.8 -331.1l2.5 2.5l-2.5 2.5l-2.5 -2.5zM-63.6 -328.3l2.5 2.5l-2.5 2.5l-2.5 -2.5zM-61.3 -324.3l2.5 2.5l-2.5 2.5l-2.5 -2.5zM-57.3 -322.6l2.5 2.5l-2.5 2.5l-2.5 -2.5zM-59.6 -322.0l2.5 2.5l-2.5 2.5l-2.5 -2.5zM-83.0 -327.1l2.5 2.5l-2.5 2.5l-2.5 -2.5zM-80.7 -326.0l2.5 2.5l-2.5 2.5l-2.5 -2.5zM-77.8 -324.8l2.5 2.5l-2.5 2.5l-2.5 -2.5zM-84.1 -324.8l2.5 2.5l-2.5 2.5l-2.5 -2.5zM-74.4 -323.1l2.5 2.5l-2.5 2.5l-2.5 -2.5zM-76.7 -321.4l2.5 2.5l-2.5 2.5l-2.5 -2.5zM-82.1 -318.6l2.5 2.5l-2.5 2.5l-2.5 -2.5zM-76.1 -318.6l2.5 2.5l-2.5 2.5l-2.5 -2.5zM-70.1 -320.6l2.5 2.5l-2.5 2.5l-2.5 -2.5zM-60.7 -318.3l2.5 2.5l-2.5 2.5l-2.5 -2.5zM-63.0 -315.7l2.5 2.5l-2.5 2.5l-2.5 -2.5zM-32.7 -317.7l2.5 2.5l-2.5 2.5l-2.5 -2.5zM-43.6 -312.0l2.5 2.5l-2.5 2.5l-2.5 -2.5zM-69.5 -312.0l2.5 2.5l-2.5 2.5l-2.5 -2.5zM-77.8 -312.3l2.5 2.5l-2.5 2.5l-2.5 -2.5zM-84.1 -314.0l2.5 2.5l-2.5 2.5l-2.5 -2.5zM-88.7 -313.4l2.5 2.5l-2.5 2.5l-2.5 -2.5zM-97.5 -305.5l2.5 2.5l-2.5 2.5l-2.5 -2.5zM-93.2 -308.4l2.5 2.5l-2.5 2.5l-2.5 -2.5zM-90.9 -302.4l2.5 2.5l-2.5 2.5l-2.5 -2.5zM-87.2 -310.1l2.5 2.5l-2.5 2.5l-2.5 -2.5zM-83.0 -310.7l2.5 2.5l-2.5 2.5l-2.5 -2.5zM-85.2 -303.5l2.5 2.5l-2.5 2.5l-2.5 -2.5zM-82.4 -303.8l2.5 2.5l-2.5 2.5l-2.5 -2.5zM-80.7 -308.9l2.5 2.5l-2.5 2.5l-2.5 -2.5zM-79.5 -302.1l2.5 2.5l-2.5 2.5l-2.5 -2.5zM-80.4 -298.4l2.5 2.5l-2.5 2.5l-2.5 -2.5zM-75.2 -294.4l2.5 2.5l-2.5 2.5l-2.5 -2.5zM-53.3 -306.1l2.5 2.5l-2.5 2.5l-2.5 -2.5zM-38.4 -307.2l2.5 2.5l-2.5 2.5l-2.5 -2.5zM-51.3 -291.0l2.5 2.5l-2.5 2.5l-2.5 -2.5zM-83.5 -288.7l2.5 2.5l-2.5 2.5l-2.5 -2.5zM-92.9 -278.4l2.5 2.5l-2.5 2.5l-2.5 -2.5zM-86.7 -277.3l2.5 2.5l-2.5 2.5l-2.5 -2.5zM-58.7 -279.2l2.5 2.5l-2.5 2.5l-2.5 -2.5zM-82.1 -269.6l2.5 2.5l-2.5 2.5l-2.5 -2.5zM-93.5 -263.9l2.5 2.5l-2.5 2.5l-2.5 -2.5zM-85.2 -262.7l2.5 2.5l-2.5 2.5l-2.5 -2.5zM-34.7 -266.7l2.5 2.5l-2.5 2.5l-2.5 -2.5zM-35.6 -261.0l2.5 2.5l-2.5 2.5l-2.5 -2.5zM-23.2 -409.6l2.5 2.5l-2.5 2.5l-2.5 -2.5zM-29.9 -398.1l2.5 2.5l-2.5 2.5l-2.5 -2.5zM-26.9 -386.2l2.5 2.5l-2.5 2.5l-2.5 -2.5zM-25.3 -383.8l2.5 2.5l-2.5 2.5l-2.5 -2.5zM-22.8 -382.6l2.5 2.5l-2.5 2.5l-2.5 -2.5zM-25.3 -379.7l2.5 2.5l-2.5 2.5l-2.5 -2.5zM-51.1 -369.3l2.5 2.5l-2.5 2.5l-2.5 -2.5zM-46.5 -369.7l2.5 2.5l-2.5 2.5l-2.5 -2.5zM-43.4 -370.3l2.5 2.5l-2.5 2.5l-2.5 -2.5zM-37.8 -369.7l2.5 2.5l-2.5 2.5l-2.5 -2.5zM-34.0 -366.0l2.5 2.5l-2.5 2.5l-2.5 -2.5zM-21.9 -362.9l2.5 2.5l-2.5 2.5l-2.5 -2.5zM-16.8 -399.6l2.5 2.5l-2.5 2.5l-2.5 -2.5zM-17.3 -392.1l2.5 2.5l-2.5 2.5l-2.5 -2.5zM-15.4 -379.1l2.5 2.5l-2.5 2.5l-2.5 -2.5zM-5.8 -379.4l2.5 2.5l-2.5 2.5l-2.5 -2.5zM35.7 -388.4l2.5 2.5l-2.5 2.5l-2.5 -2.5zM35.3 -339.2l2.5 2.5l-2.5 2.5l-2.5 -2.5zM-98.5 -256.9l2.5 2.5l-2.5 2.5l-2.5 -2.5zM-91.4 -255.0l2.5 2.5l-2.5 2.5l-2.5 -2.5zM-69.6 -255.4l2.5 2.5l-2.5 2.5l-2.5 -2.5zM-63.3 -251.7l2.5 2.5l-2.5 2.5l-2.5 -2.5zM-54.2 -253.4l2.5 2.5l-2.5 2.5l-2.5 -2.5zM-75.8 -245.3l2.5 2.5l-2.5 2.5l-2.5 -2.5zM-81.8 -237.2l2.5 2.5l-2.5 2.5l-2.5 -2.5zM-75.8 -230.1l2.5 2.5l-2.5 2.5l-2.5 -2.5zM-66.8 -224.3l2.5 2.5l-2.5 2.5l-2.5 -2.5zM-74.9 -217.9l2.5 2.5l-2.5 2.5l-2.5 -2.5zM-64.6 -205.6l2.5 2.5l-2.5 2.5l-2.5 -2.5zM-57.7 -206.8l2.5 2.5l-2.5 2.5l-2.5 -2.5zM-0.4 -247.6l2.5 2.5l-2.5 2.5l-2.5 -2.5zM2.0 -307.4l2.5 2.5l-2.5 2.5l-2.5 -2.5zM28.3 -382.4l2.5 2.5l-2.5 2.5l-2.5 -2.5zM69.6 -322.9l2.5 2.5l-2.5 2.5l-2.5 -2.5zM35.6 -240.2l2.5 2.5l-2.5 2.5l-2.5 -2.5zM-70.8 -342.6l2.5 2.5l-2.5 2.5l-2.5 -2.5zM-67.7 -342.0l2.5 2.5l-2.5 2.5l-2.5 -2.5zM-57.3 -337.9l2.5 2.5l-2.5 2.5l-2.5 -2.5zM-56.0 -335.8l2.5 2.5l-2.5 2.5l-2.5 -2.5zM-52.9 -335.3l2.5 2.5l-2.5 2.5l-2.5 -2.5zM-52.3 -329.2l2.5 2.5l-2.5 2.5l-2.5 -2.5zM-81.6 -326.1l2.5 2.5l-2.5 2.5l-2.5 -2.5zM-73.8 -323.0l2.5 2.5l-2.5 2.5l-2.5 -2.5zM-77.2 -321.4l2.5 2.5l-2.5 2.5l-2.5 -2.5zM-84.0 -313.3l2.5 2.5l-2.5 2.5l-2.5 -2.5zM-81.7 -308.7l2.5 2.5l-2.5 2.5l-2.5 -2.5z"/>
</g>
<g id="top">
<path d="M-0.00 441.23 L-3.95 437.50 L-7.84 433.72 L-11.66 429.90 L-15.42 426.04 L-19.12 422.15 L-22.75 418.21 L-26.33 414.24 L-29.84 410.24 L-33.30 406.19 L-36.70 402.11 L-40.05 398.00 L-43.33 393.85 L-46.57 389.67 L-49.75 385.45 L-52.87 381.20 L-55.95 376.92 L-58.97 372.61 L-61.94 368.26 L-64.86 363.88 L-67.73 359.48 L-70.55 355.04 L-73.32 350.57 L-76.04 346.07 L-78.71 341.54 L-81.34 336.98 L-83.92 332.40 L-86.45 327.79 L-88.94 323.15 L-91.38 318.48 L-93.78 313.79 L-96.13 309.07 L-98.43 304.32 L-100.70 299.55 L-102.91 294.76 L-105.09 289.94 L-107.22 285.09 L-109.31 280.23 L-111.35 275.34 L-113.36 270.42 L-115.32 265.49 L-117.23 260.53 L-119.11 255.56 L-120.94 250.56 L-122.74 245.54 L-124.49 240.50 L-126.20 235.44 L-127.87 230.36 L-129.50 225.26 L-131.09 220.15 L-132.64 215.02 L-134.15 209.86 L-135.62 204.70 L-137.05 199.51 L-138.44 194.31 L-139.79 189.10 L-141.10 183.87 L-142.38 178.62 L-143.61 173.36 L-144.80 168.08 L-145.96 162.80 L-147.07 157.49 L-148.15 152.18 L-149.19 146.85 L-150.19 141.52 L-151.15 136.17 L-152.08 130.81 L-152.96 125.43 L-153.81 120.05 L-154.62 114.66 L-155.39 109.26 L-156.13 103.85 L-156.82 98.44 L-157.48 93.01 L-158.10 87.58 L-158.68 82.14 L-159.22 76.69 L-159.73 71.24 L-160.20 65.78 L-160.63 60.32 L-161.02 54.85 L-161.38 49.38 L-161.70 43.90 L-161.98 38.42 L-162.22 32.94 L-162.43 27.45 L-162.60 21.96 L-162.73 16.48 L-162.82 10.98 L-162.88 5.49 L-162.90 -0.00 L-162.88 -5.49 L-162.82 -10.98 L-162.73 -16.48 L-162.60 -21.96 L-162.43 -27.45 L-162.22 -32.94 L-161.98 -38.42 L-161.70 -43.90 L-161.38 -49.38 L-161.02 -54.85 L-160.63 -60.32 L-160.20 -65.78 L-159.73 -71.24 L-159.22 -76.69 L-158.68 -82.14 L-158.10 -87.58 L-157.48 -93.01 L-156.82 -98.44 L-156.13 -103.85 L-155.39 -109.26 L-154.62 -114.66 L-153.81 -120.05 L-152.96 -125.43 L-152.08 -130.81 L-151.15 -136.17 L-150.19 -141.52 L-149.19 -146.85 L-148.15 -152.18 L-147.07 -157.49 L-145.96 -162.80 L-144.80 -168.08 L-143.61 -173.36 L-142.38 -178.62 L-141.10 -183.87 L-139.79 -189.10 L-138.44 -194.31 L-137.05 -199.51 L-135.62 -204.70 L-134.15 -209.86 L-132.64 -215.02 L-131.09 -220.15 L-129.50 -225.26 L-127.87 -230.36 L-126.20 -235.44 L-124.49 -240.50 L-122.74 -245.54 L-120.94 -250.56 L-119.11 -255.56 L-117.23 -260.53 L-115.32 -265.49 L-113.36 -270.42 L-111.35 -275.34 L-109.31 -280.23 L-107.22 -285.09 L-105.09 -289.94 L-102.91 -294.76 L-100.70 -299.55 L-98.43 -304.32 L-96.13 -309.07 L-93.78 -313.79 L-91.38 -318.48 L-88.94 -323.15 L-86.45 -327.79 L-83.92 -332.40 L-81.34 -336.98 L-78.71 -341.54 L-76.04 -346.07 L-73.32 -350.57 L-70.55 -355.04 L-67.73 -359.48 L-64.86 -363.88 L-61.94 -368.26 L-58.97 -372.61 L-55.95 -376.92 L-52.87 -381.20 L-49.75 -385.45 L-46.57 -389.67 L-43.33 -393.85 L-40.05 -398.00 L-36.70 -402.11 L-33.30 -406.19 L-29.84 -410.24 L-26.33 -414.24 L-22.75 -418.21 L-19.12 -422.15 L-15.42 -426.04 L-11.66 -429.90 L-7.84 -433.72 L-3.95 -437.50 L-0.00 -441.23 L0.00 -441.23 L3.95 -437.50 L7.84 -433.72 L11.66 -429.90 L15.42 -426.04 L19.12 -422.15 L22.75 -418.21 L26.33 -414.24 L29.84 -410.24 L33.30 -406.19 L36.70 -402.11 L40.05 -398.00 L43.33 -393.85 L46.57 -389.67 L49.75 -385.45 L52.87 -381.20 L55.95 -376.92 L58.97 -372.61 L61.94 -368.26 L64.86 -363.88 L67.73 -359.48 L70.55 -355.04 L73.32 -350.57 L76.04 -346.07 L78.71 -341.54 L81.34 -336.98 L83.92 -332.40 L86.45 -327.79 L88.94 -323.15 L91.38 -318.48 L93.78 -313.79 L96.13 -309.07 L98.43 -304.32 L100.70 -299.55 L102.91 -294.76 L105.09 -289.94 L107.22 -285.09 L109.31 -280.23 L111.35 -275.34 L113.36 -270.42 L115.32 -265.49 L117.23 -260.53 L119.11 -255.56 L120.94 -250.56 L122.74 -245.54 L124.49 -240.50 L126.20 -235.44 L127.87 -230.36 L129.50 -225.26 L131.09 -220.15 L132.64 -215.02 L134.15 -209.86 L135.62 -204.70 L137.05 -199.51 L138.44 -194.31 L139.79 -189.10 L141.10 -183.87 L142.38 -178.62 L143.61 -173.36 L144.80 -168.08 L145.96 -162.80 L147.07 -157.49 L148.15 -152.18 L149.19 -146.85 L150.19 -141.52 L151.15 -136.17 L152.08 -130.81 L152.96 -125.43 L153.81 -120.05 L154.62 -114.66 L155.39 -109.26 L156.13 -103.85 L156.82 -98.44 L157.48 -93.01 L158.10 -87.58 L158.68 -82.14 L159.22 -76.69 L159.73 -71.24 L160.20 -65.78 L160.63 -60.32 L161.02 -54.85 L161.38 -49.38 L161.70 -43.90 L161.98 -38.42 L162.22 -32.94 L162.43 -27.45 L162.60 -21.96 L162.73 -16.48 L162.82 -10.98 L162.88 -5.49 L162.90 -0.00 L162.88 5.49 L162.82 10.98 L162.73 16.48 L162.60 21.96 L162.43 27.45 L162.22 32.94 L161.98 38.42 L161.70 43.90 L161.38 49.38 L161.02 54.85 L160.63 60.32 L160.20 65.78 L159.73 71.24 L159.22 76.69 L158.68 82.14 L158.10 87.58 L157.48 93.01 L156.82 98.44 L156.13 103.85 L155.39 109.26 L154.62 114.66 L153.81 120.05 L152.96 125.43 L152.08 130.81 L151.15 136.17 L150.19 141.52 L149.19 146.85 L148.15 152.18 L147.07 157.49 L145.96 162.80 L144.80 168.08 L143.61 173.36 L142.38 178.62 L141.10 183.87 L139.79 189.10 L138.44 194.31 L137.05 199.51 L135.62 204.70 L134.15 209.86 L132.64 215.02 L131.09 220.15 L129.50 225.26 L127.87 230.36 L126.20 235.44 L124.49 240.50 L122.74 245.54 L120.94 250.56 L119.11 255.56 L117.23 260.53 L115.32 265.49 L113.36 270.42 L111.35 275.34 L109.31 280.23 L107.22 285.09 L105.09 289.94 L102.91 294.76 L100.70 299.55 L98.43 304.32 L96.13 309.07 L93.78 313.79 L91.38 318.48 L88.94 323.15 L86.45 327.79 L83.92 332.40 L81.34 336.98 L78.71 341.54 L76.04 346.07 L73.32 350.57 L70.55 355.04 L67.73 359.48 L64.86 363.88 L61.94 368.26 L58.97 372.61 L55.95 376.92 L52.87 381.20 L49.75 385.45 L46.57 389.67 L43.33 393.85 L40.05 398.00 L36.70 402.11 L33.30 406.19 L29.84 410.24 L26.33 414.24 L22.75 418.21 L19.12 422.15 L15.42 426.04 L11.66 429.90 L7.84 433.72 L3.95 437.50 L0.00 441.23 Z" fill="none" stroke="#000" stroke-width="3.5" stroke-linejoin="miter"/>
<circle cx="0.00" cy="-441.23" r="4.1"/>
<circle cx="0.00" cy="441.23" r="4.1"/>
<circle cx="-162.90" cy="-0.00" r="4.1"/>
<circle cx="162.90" cy="-0.00" r="4.1"/>
<circle cx="-94.30" cy="-312.75" r="4.1"/>
<circle cx="94.02" cy="313.32" r="4.1"/>
<circle cx="-139.99" cy="-188.31" r="4.1"/>
<circle cx="139.99" cy="188.31" r="4.1"/>
</g>
</defs>
<g transform="translate(254.5 540.0)">
<use href="#base"/><use href="#small"/>
<g stroke="#000" stroke-width="1.1" stroke-linejoin="miter">
<path d="M6.1 -384.6l6.2 6.2l-6.2 6.2l-6.2 -6.2z" fill="#6ff443"/>
<path d="M38.5 -378.2l6.2 6.2l-6.2 6.2l-6.2 -6.2z" fill="#6ff443"/>
<path d="M-26.6 -356.2l6.2 6.2l-6.2 6.2l-6.2 -6.2z" fill="#6ff443"/>
<path d="M-25.2 -354.8l6.2 6.2l-6.2 6.2l-6.2 -6.2z" fill="#6ff443"/>
<path d="M32.9 -353.8l6.2 6.2l-6.2 6.2l-6.2 -6.2z" fill="#6ff443"/>
<path d="M6.0 -353.2l6.2 6.2l-6.2 6.2l-6.2 -6.2z" fill="#6ff443"/>
<path d="M21.6 -351.0l6.2 6.2l-6.2 6.2l-6.2 -6.2z" fill="#6ff443"/>
<path d="M16.6 -344.1l6.2 6.2l-6.2 6.2l-6.2 -6.2z" fill="#6ff443"/>
<path d="M31.2 -327.6l6.2 6.2l-6.2 6.2l-6.2 -6.2z" fill="#6ff443"/>
<path d="M-74.4 -310.1l6.2 6.2l-6.2 6.2l-6.2 -6.2z" fill="#6ff443"/>
<path d="M25.1 -274.8l6.2 6.2l-6.2 6.2l-6.2 -6.2z" fill="#6ff443"/>
<path d="M-0.6 -341.8l6.2 6.2l-6.2 6.2l-6.2 -6.2z" fill="#6ff443"/>
<path d="M28.2 -386.0l6.2 6.2l-6.2 6.2l-6.2 -6.2z" fill="#e9362b"/>
<path d="M69.7 -326.8l6.2 6.2l-6.2 6.2l-6.2 -6.2z" fill="#e9362b"/>
<path d="M35.8 -244.0l6.2 6.2l-6.2 6.2l-6.2 -6.2z" fill="#e9362b"/>
<path d="M-61.2 -311.9l6.2 6.2l-6.2 6.2l-6.2 -6.2z" fill="#e9362b"/>
<path d="M125.5 -52.2l6.2 6.2l-6.2 6.2l-6.2 -6.2z" fill="#e9362b"/>
</g>
<use href="#top"/>
<text class="lb" x="-14.9" y="-447.9">+ISO</text>
<text class="lb" x="-13.3" y="457.7">-ISO</text>
<text class="lb" x="-149.2" y="-311.9">+Crack</text>
<text class="lb" x="-185.4" y="-185.5">+LVD</text>
<text class="lb" x="-217.6" y="4.8">+CLVD</text>
<text class="lb" x="170.6" y="4.9">-CLVD</text>
<text class="lb" x="147.2" y="197.4">-LVD</text>
<text class="lb" x="100.5" y="322.1">-Crack</text>
<text class="pl" x="-162.0" y="-391.2">a</text>
<text class="tt" x="137.5" y="-425.5" text-anchor="end"><tspan class="pi">π</tspan><tspan dy="5.5" font-size="14.5">1</tspan><tspan dy="-5.5"> = 0.5</tspan></text>
<text class="eq" x="130.6" y="-402.7" text-anchor="end">Eq. = 12</text>
<text class="ex" x="130.8" y="-378.2" text-anchor="end">Ex. = 5</text>
</g>
<g transform="translate(701.5 540.0)">
<use href="#base"/><use href="#small"/>
<g stroke="#000" stroke-width="1.1" stroke-linejoin="miter">
<path d="M6.1 -384.6l6.2 6.2l-6.2 6.2l-6.2 -6.2z" fill="#6ff443"/>
<path d="M38.5 -378.2l6.2 6.2l-6.2 6.2l-6.2 -6.2z" fill="#6ff443"/>
<path d="M-26.6 -356.2l6.2 6.2l-6.2 6.2l-6.2 -6.2z" fill="#6ff443"/>
<path d="M-25.2 -354.8l6.2 6.2l-6.2 6.2l-6.2 -6.2z" fill="#6ff443"/>
<path d="M32.9 -353.8l6.2 6.2l-6.2 6.2l-6.2 -6.2z" fill="#6ff443"/>
<path d="M6.0 -353.2l6.2 6.2l-6.2 6.2l-6.2 -6.2z" fill="#6ff443"/>
<path d="M21.6 -351.0l6.2 6.2l-6.2 6.2l-6.2 -6.2z" fill="#6ff443"/>
<path d="M16.6 -344.1l6.2 6.2l-6.2 6.2l-6.2 -6.2z" fill="#6ff443"/>
<path d="M31.2 -327.6l6.2 6.2l-6.2 6.2l-6.2 -6.2z" fill="#6ff443"/>
<path d="M-74.4 -310.1l6.2 6.2l-6.2 6.2l-6.2 -6.2z" fill="#6ff443"/>
<path d="M25.1 -274.8l6.2 6.2l-6.2 6.2l-6.2 -6.2z" fill="#6ff443"/>
<path d="M-0.4 -333.6l6.2 6.2l-6.2 6.2l-6.2 -6.2z" fill="#6ff443"/>
<path d="M-38.0 -186.1l6.2 6.2l-6.2 6.2l-6.2 -6.2z" fill="#6ff443"/>
<path d="M-0.6 -341.8l6.2 6.2l-6.2 6.2l-6.2 -6.2z" fill="#6ff443"/>
<path d="M69.7 -326.8l6.2 6.2l-6.2 6.2l-6.2 -6.2z" fill="#e9362b"/>
<path d="M35.8 -244.0l6.2 6.2l-6.2 6.2l-6.2 -6.2z" fill="#e9362b"/>
<path d="M-61.2 -311.9l6.2 6.2l-6.2 6.2l-6.2 -6.2z" fill="#e9362b"/>
<path d="M125.5 -52.2l6.2 6.2l-6.2 6.2l-6.2 -6.2z" fill="#e9362b"/>
</g>
<use href="#top"/>
<text class="lb" x="-14.9" y="-447.9">+ISO</text>
<text class="lb" x="-13.3" y="457.7">-ISO</text>
<text class="lb" x="-149.2" y="-311.9">+Crack</text>
<text class="lb" x="-185.4" y="-185.5">+LVD</text>
<text class="lb" x="-217.6" y="4.8">+CLVD</text>
<text class="lb" x="170.6" y="4.9">-CLVD</text>
<text class="lb" x="147.2" y="197.4">-LVD</text>
<text class="lb" x="100.5" y="322.1">-Crack</text>
<text class="pl" x="-162.0" y="-385.8">b</text>
<text class="tt" x="137.5" y="-425.5" text-anchor="end"><tspan class="pi">π</tspan><tspan dy="5.5" font-size="14.5">1</tspan><tspan dy="-5.5"> = 0.95</tspan></text>
<text class="eq" x="130.6" y="-402.7" text-anchor="end">Eq. = 14</text>
<text class="ex" x="130.8" y="-378.2" text-anchor="end">Ex. = 4</text>
</g>
<g transform="translate(1148.6 540.0)">
<use href="#base"/><use href="#small"/>
<g stroke="#000" stroke-width="1.1" stroke-linejoin="miter">
<path d="M6.1 -384.6l6.2 6.2l-6.2 6.2l-6.2 -6.2z" fill="#6ff443"/>
<path d="M38.5 -378.2l6.2 6.2l-6.2 6.2l-6.2 -6.2z" fill="#6ff443"/>
<path d="M-26.6 -356.2l6.2 6.2l-6.2 6.2l-6.2 -6.2z" fill="#6ff443"/>
<path d="M-25.2 -354.8l6.2 6.2l-6.2 6.2l-6.2 -6.2z" fill="#6ff443"/>
<path d="M32.9 -353.8l6.2 6.2l-6.2 6.2l-6.2 -6.2z" fill="#6ff443"/>
<path d="M6.0 -353.2l6.2 6.2l-6.2 6.2l-6.2 -6.2z" fill="#6ff443"/>
<path d="M21.6 -351.0l6.2 6.2l-6.2 6.2l-6.2 -6.2z" fill="#6ff443"/>
<path d="M16.6 -344.1l6.2 6.2l-6.2 6.2l-6.2 -6.2z" fill="#6ff443"/>
<path d="M31.2 -327.6l6.2 6.2l-6.2 6.2l-6.2 -6.2z" fill="#6ff443"/>
<path d="M-74.4 -310.1l6.2 6.2l-6.2 6.2l-6.2 -6.2z" fill="#6ff443"/>
<path d="M25.1 -274.8l6.2 6.2l-6.2 6.2l-6.2 -6.2z" fill="#6ff443"/>
<path d="M-0.4 -333.6l6.2 6.2l-6.2 6.2l-6.2 -6.2z" fill="#6ff443"/>
<path d="M-38.0 -186.1l6.2 6.2l-6.2 6.2l-6.2 -6.2z" fill="#6ff443"/>
<path d="M46.2 -359.3l6.2 6.2l-6.2 6.2l-6.2 -6.2z" fill="#6ff443"/>
<path d="M9.9 -311.5l6.2 6.2l-6.2 6.2l-6.2 -6.2z" fill="#6ff443"/>
<path d="M9.9 -304.8l6.2 6.2l-6.2 6.2l-6.2 -6.2z" fill="#6ff443"/>
<path d="M61.3 -305.9l6.2 6.2l-6.2 6.2l-6.2 -6.2z" fill="#6ff443"/>
<path d="M65.5 -313.7l6.2 6.2l-6.2 6.2l-6.2 -6.2z" fill="#6ff443"/>
<path d="M-11.0 -252.0l6.2 6.2l-6.2 6.2l-6.2 -6.2z" fill="#6ff443"/>
<path d="M3.0 -251.7l6.2 6.2l-6.2 6.2l-6.2 -6.2z" fill="#6ff443"/>
<path d="M-0.6 -341.8l6.2 6.2l-6.2 6.2l-6.2 -6.2z" fill="#6ff443"/>
<path d="M-61.2 -311.9l6.2 6.2l-6.2 6.2l-6.2 -6.2z" fill="#e9362b"/>
<path d="M125.5 -52.2l6.2 6.2l-6.2 6.2l-6.2 -6.2z" fill="#e9362b"/>
</g>
<use href="#top"/>
<text class="lb" x="-14.9" y="-447.9">+ISO</text>
<text class="lb" x="-13.3" y="457.7">-ISO</text>
<text class="lb" x="-149.2" y="-311.9">+Crack</text>
<text class="lb" x="-185.4" y="-185.5">+LVD</text>
<text class="lb" x="-217.6" y="4.8">+CLVD</text>
<text class="lb" x="170.6" y="4.9">-CLVD</text>
<text class="lb" x="147.2" y="197.4">-LVD</text>
<text class="lb" x="100.5" y="322.1">-Crack</text>
<text class="pl" x="-162.0" y="-391.0">c</text>
<text class="tt" x="137.5" y="-425.5" text-anchor="end"><tspan class="pi">π</tspan><tspan dy="5.5" font-size="14.5">1</tspan><tspan dy="-5.5"> = 0.9999</tspan></text>
<text class="eq" x="130.6" y="-402.7" text-anchor="end">Eq. = 21</text>
<text class="ex" x="130.8" y="-378.2" text-anchor="end">Ex. = 2</text>
<text class="nm" x="-59.4" y="-292.4">DAG-1</text>
<text class="nm" x="112.0" y="-30.8">Crowdie</text>
</g>
</svg></body></html>
